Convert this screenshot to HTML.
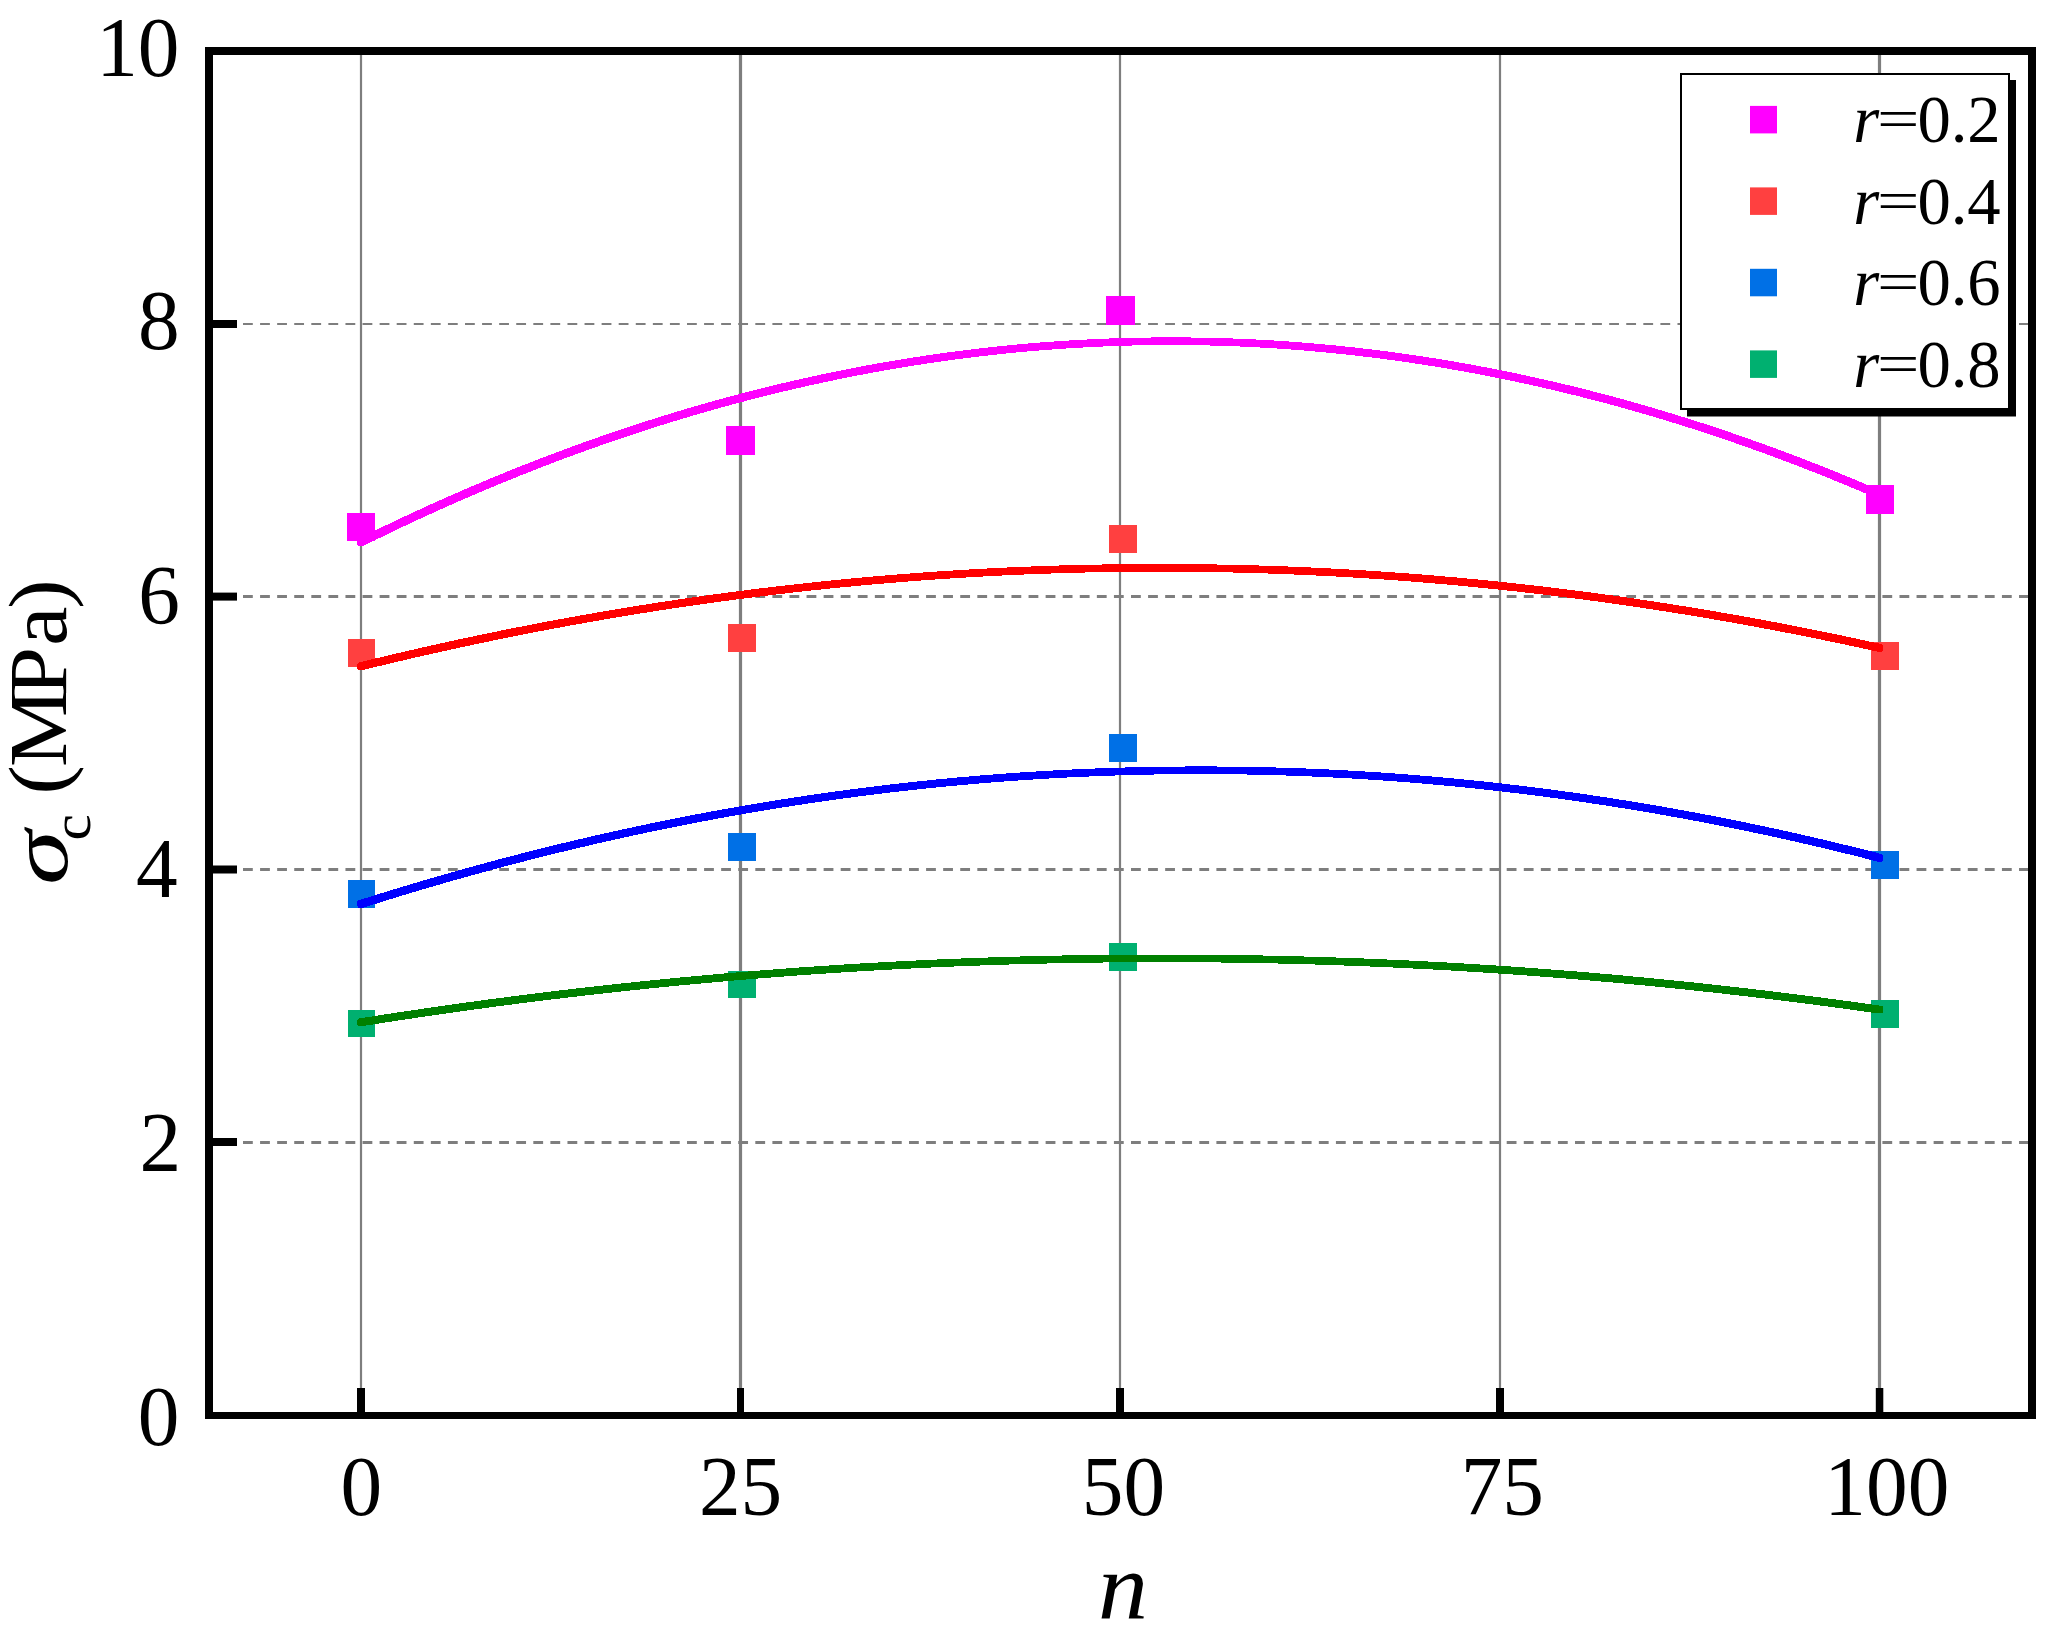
<!DOCTYPE html>
<html lang="en"><head><meta charset="utf-8"><title>Chart</title>
<style>html,body{margin:0;padding:0;background:#fff}body{width:2062px;height:1632px;overflow:hidden}svg{display:block}text{font-family:"Liberation Serif",serif;fill:#000}.i{font-style:italic}</style></head><body>
<svg width="2062" height="1632" viewBox="0 0 2062 1632">
<rect x="0" y="0" width="2062" height="1632" fill="#fff"/>
<g fill="#7e7e7e">
<rect x="359.9" y="55" width="2.2" height="1357"/>
<rect x="738.9" y="55" width="3.2" height="1357"/>
<rect x="1118.9" y="55" width="2.2" height="1357"/>
<rect x="1498.9" y="55" width="2.2" height="1357"/>
<rect x="1877.9" y="55" width="3.2" height="1357"/>
</g>
<line x1="208.85" y1="1142.5" x2="2028" y2="1142.5" stroke="#7e7e7e" stroke-width="3.0" stroke-dasharray="9.8 7.277"/>
<line x1="208.85" y1="869.5" x2="2028" y2="869.5" stroke="#7e7e7e" stroke-width="3.0" stroke-dasharray="9.8 7.277"/>
<line x1="208.85" y1="596.5" x2="2028" y2="596.5" stroke="#7e7e7e" stroke-width="3.0" stroke-dasharray="9.8 7.277"/>
<line x1="208.85" y1="324.0" x2="2028" y2="324.0" stroke="#7e7e7e" stroke-width="2.0" stroke-dasharray="9.8 7.277"/>
<g fill="#ff00ff">
<rect x="347.0" y="513.0" width="28.0" height="28.0"/>
<rect x="726.0" y="426.0" width="29.0" height="29.0"/>
<rect x="1106.0" y="296.0" width="29.0" height="29.0"/>
<rect x="1866.0" y="485.0" width="28.0" height="29.0"/>
</g>
<g fill="#ff4040">
<rect x="348.0" y="639.0" width="27.0" height="28.0"/>
<rect x="728.0" y="624.0" width="28.0" height="28.0"/>
<rect x="1109.0" y="525.0" width="28.0" height="28.0"/>
<rect x="1871.0" y="642.0" width="28.0" height="28.0"/>
</g>
<g fill="#0070e6">
<rect x="348.0" y="880.0" width="27.0" height="28.0"/>
<rect x="728.0" y="833.0" width="28.0" height="28.0"/>
<rect x="1109.0" y="734.0" width="28.0" height="28.0"/>
<rect x="1871.0" y="851.0" width="28.0" height="28.0"/>
</g>
<g fill="#00b070">
<rect x="348.0" y="1010.0" width="27.0" height="27.0"/>
<rect x="728.0" y="971.0" width="28.0" height="27.0"/>
<rect x="1109.0" y="943.0" width="28.0" height="28.0"/>
<rect x="1871.0" y="1000.0" width="28.0" height="28.0"/>
</g>
<path d="M357.20 540.66L357.45 539.84L357.70 539.34L357.95 539.04L358.20 538.82L358.45 538.68L358.70 538.55L358.95 538.43L359.20 538.30L359.45 538.18L359.70 538.06L359.95 537.93L360.20 537.81L360.45 537.68L360.70 537.56L360.95 537.44L361.20 537.31L361.45 537.19L361.70 537.07L361.95 536.94L362.20 536.82L362.45 536.70L362.70 536.57L362.95 536.45L363.20 536.33L363.45 536.20L363.70 536.08L363.95 535.96L364.20 535.83L364.45 535.71L364.70 535.59L364.95 535.46L365.20 535.34L365.45 535.22L365.70 535.09L365.95 534.97L366.20 534.85L366.45 534.72L366.70 534.60L366.95 534.48L367.20 534.36L367.45 534.23L367.70 534.11L367.95 533.99L368.20 533.87L368.45 533.74L368.70 533.62L368.95 533.50L369.20 533.38L369.45 533.25L369.70 533.13L369.95 533.01L370.20 532.89L370.45 532.76L370.70 532.64L370.80 532.59L372.80 531.62L374.80 530.64L376.80 529.67L378.80 528.70L380.80 527.74L382.80 526.77L384.80 525.81L386.80 524.85L388.80 523.90L390.80 522.94L392.80 521.99L394.80 521.04L396.80 520.09L398.80 519.15L400.80 518.21L402.80 517.27L404.80 516.33L406.80 515.40L408.80 514.47L410.80 513.54L412.80 512.61L414.80 511.68L416.80 510.76L418.80 509.84L420.80 508.92L422.80 508.01L424.80 507.10L426.80 506.19L428.80 505.28L430.80 504.37L432.80 503.47L434.80 502.57L436.80 501.67L438.80 500.78L440.80 499.88L442.80 498.99L444.80 498.11L446.80 497.22L448.80 496.34L450.80 495.46L452.80 494.58L454.80 493.70L456.80 492.83L458.80 491.96L460.80 491.09L462.80 490.22L464.80 489.36L466.80 488.50L468.80 487.64L470.80 486.78L472.80 485.93L474.80 485.08L476.80 484.23L478.80 483.38L480.80 482.54L482.80 481.70L484.80 480.86L486.80 480.02L488.80 479.19L490.80 478.35L492.80 477.52L494.80 476.70L496.80 475.87L498.80 475.05L500.80 474.23L502.80 473.41L504.80 472.60L506.80 471.79L508.80 470.98L510.80 470.17L512.80 469.37L514.80 468.56L516.80 467.76L518.80 466.97L520.80 466.17L522.80 465.38L524.80 464.59L526.80 463.80L528.80 463.02L530.80 462.23L532.80 461.45L534.80 460.67L536.80 459.90L538.80 459.13L540.80 458.36L542.80 457.59L544.80 456.82L546.80 456.06L548.80 455.30L550.80 454.54L552.80 453.78L554.80 453.03L556.80 452.28L558.80 451.53L560.80 450.78L562.80 450.04L564.80 449.30L566.80 448.56L568.80 447.82L570.80 447.09L572.80 446.36L574.80 445.63L576.80 444.90L578.80 444.18L580.80 443.46L582.80 442.74L584.80 442.02L586.80 441.31L588.80 440.59L590.80 439.88L592.80 439.18L594.80 438.47L596.80 437.77L598.80 437.07L600.80 436.37L602.80 435.68L604.80 434.99L606.80 434.30L608.80 433.61L610.80 432.92L612.80 432.24L614.80 431.56L616.80 430.88L618.80 430.21L620.80 429.54L622.80 428.87L624.80 428.20L626.80 427.53L628.80 426.87L630.80 426.21L632.80 425.55L634.80 424.90L636.80 424.24L638.80 423.59L640.80 422.94L642.80 422.30L644.80 421.66L646.80 421.01L648.80 420.38L650.80 419.74L652.80 419.11L654.80 418.48L656.80 417.85L658.80 417.22L660.80 416.60L662.80 415.98L664.80 415.36L666.80 414.74L668.80 414.13L670.80 413.52L672.80 412.91L674.80 412.30L676.80 411.70L678.80 411.09L680.80 410.49L682.80 409.90L684.80 409.30L686.80 408.71L688.80 408.12L690.80 407.53L692.80 406.95L694.80 406.37L696.80 405.79L698.80 405.21L700.80 404.63L702.80 404.06L704.80 403.49L706.80 402.93L708.80 402.36L710.80 401.80L712.80 401.24L714.80 400.68L716.80 400.12L718.80 399.57L720.80 399.02L722.80 398.47L724.80 397.93L726.80 397.38L728.80 396.84L730.80 396.31L732.80 395.77L734.80 395.24L736.80 394.71L738.80 394.18L740.80 393.65L742.80 393.13L744.80 392.61L746.80 392.09L748.80 391.57L750.80 391.06L752.80 390.55L754.80 390.04L756.80 389.53L758.80 389.03L760.80 388.53L762.80 388.03L764.80 387.53L766.80 387.04L768.80 386.55L770.80 386.06L772.80 385.57L774.80 385.09L776.80 384.60L778.80 384.13L780.80 383.65L782.80 383.17L784.80 382.70L786.80 382.23L788.80 381.77L790.80 381.30L792.80 380.84L794.80 380.38L796.80 379.92L798.80 379.47L800.80 379.01L802.80 378.56L804.80 378.12L806.80 377.67L808.80 377.23L810.80 376.79L812.80 376.35L814.80 375.91L816.80 375.48L818.80 375.05L820.80 374.62L822.80 374.20L824.80 373.77L826.80 373.35L828.80 372.93L830.80 372.52L832.80 372.11L834.80 371.69L836.80 371.29L838.80 370.88L840.80 370.48L842.80 370.08L844.80 369.68L846.80 369.28L848.80 368.89L850.80 368.50L852.80 368.11L854.80 367.72L856.80 367.34L858.80 366.95L860.80 366.58L862.80 366.20L864.80 365.83L866.80 365.45L868.80 365.08L870.80 364.72L872.80 364.35L874.80 363.99L876.80 363.63L878.80 363.27L880.80 362.92L882.80 362.57L884.80 362.22L886.80 361.87L888.80 361.53L890.80 361.18L892.80 360.84L894.80 360.51L896.80 360.17L898.80 359.84L900.80 359.51L902.80 359.18L904.80 358.86L906.80 358.53L908.80 358.21L910.80 357.89L912.80 357.58L914.80 357.27L916.80 356.95L918.80 356.65L920.80 356.34L922.80 356.04L924.80 355.74L926.80 355.44L928.80 355.14L930.80 354.85L932.80 354.56L934.80 354.27L936.80 353.98L938.80 353.70L940.80 353.42L942.80 353.14L944.80 352.86L946.80 352.59L948.80 352.32L950.80 352.05L952.80 351.78L954.80 351.52L956.80 351.26L958.80 351.00L960.80 350.74L962.80 350.49L964.80 350.23L966.80 349.99L968.80 349.74L970.80 349.49L972.80 349.25L974.80 349.01L976.80 348.78L978.80 348.54L980.80 348.31L982.80 348.08L984.80 347.85L986.80 347.63L988.80 347.40L990.80 347.18L992.80 346.97L994.80 346.75L996.80 346.54L998.80 346.33L1000.80 346.12L1002.80 345.92L1004.80 345.71L1006.80 345.51L1008.80 345.31L1010.80 345.12L1012.80 344.92L1014.80 344.73L1016.80 344.55L1018.80 344.36L1020.80 344.18L1022.80 344.00L1024.80 343.82L1026.80 343.64L1028.80 343.47L1030.80 343.30L1032.80 343.13L1034.80 342.96L1036.80 342.80L1038.80 342.64L1040.80 342.48L1042.80 342.32L1044.80 342.17L1046.80 342.02L1048.80 341.87L1050.80 341.72L1052.80 341.58L1054.80 341.43L1056.80 341.29L1058.80 341.16L1060.80 341.02L1062.80 340.89L1064.80 340.76L1066.80 340.63L1068.80 340.51L1070.80 340.39L1072.80 340.27L1074.80 340.15L1076.80 340.04L1078.80 339.92L1080.80 339.81L1082.80 339.71L1084.80 339.60L1086.80 339.50L1088.80 339.40L1090.80 339.30L1092.80 339.21L1094.80 339.11L1096.80 339.02L1098.80 338.93L1100.80 338.85L1102.80 338.77L1104.80 338.69L1106.80 338.61L1108.80 338.53L1110.80 338.46L1112.80 338.39L1114.80 338.32L1116.80 338.25L1118.80 338.19L1120.80 338.13L1122.80 338.07L1124.80 338.01L1126.80 337.96L1128.80 337.91L1130.80 337.86L1132.80 337.81L1134.80 337.77L1136.80 337.73L1138.80 337.69L1140.80 337.65L1142.80 337.62L1144.80 337.59L1146.80 337.56L1148.80 337.53L1150.80 337.51L1152.80 337.48L1154.80 337.47L1156.80 337.45L1158.80 337.43L1160.80 337.42L1162.80 337.41L1164.80 337.40L1166.80 337.40L1168.80 337.40L1170.80 337.40L1172.80 337.40L1174.80 337.40L1176.80 337.40L1178.80 337.41L1180.80 337.42L1182.80 337.43L1184.80 337.44L1186.80 337.46L1188.80 337.47L1190.80 337.50L1192.80 337.52L1194.80 337.54L1196.80 337.57L1198.80 337.60L1200.80 337.64L1202.80 337.67L1204.80 337.71L1206.80 337.75L1208.80 337.79L1210.80 337.84L1212.80 337.88L1214.80 337.94L1216.80 337.99L1218.80 338.04L1220.80 338.10L1222.80 338.16L1224.80 338.22L1226.80 338.29L1228.80 338.35L1230.80 338.42L1232.80 338.50L1234.80 338.57L1236.80 338.65L1238.80 338.73L1240.80 338.81L1242.80 338.89L1244.80 338.98L1246.80 339.07L1248.80 339.16L1250.80 339.26L1252.80 339.35L1254.80 339.45L1256.80 339.55L1258.80 339.66L1260.80 339.76L1262.80 339.87L1264.80 339.98L1266.80 340.10L1268.80 340.21L1270.80 340.33L1272.80 340.45L1274.80 340.57L1276.80 340.70L1278.80 340.83L1280.80 340.96L1282.80 341.09L1284.80 341.23L1286.80 341.37L1288.80 341.51L1290.80 341.65L1292.80 341.80L1294.80 341.94L1296.80 342.09L1298.80 342.25L1300.80 342.40L1302.80 342.56L1304.80 342.72L1306.80 342.88L1308.80 343.05L1310.80 343.22L1312.80 343.39L1314.80 343.56L1316.80 343.73L1318.80 343.91L1320.80 344.09L1322.80 344.27L1324.80 344.46L1326.80 344.64L1328.80 344.83L1330.80 345.03L1332.80 345.22L1334.80 345.42L1336.80 345.62L1338.80 345.82L1340.80 346.02L1342.80 346.23L1344.80 346.44L1346.80 346.65L1348.80 346.86L1350.80 347.08L1352.80 347.30L1354.80 347.52L1356.80 347.74L1358.80 347.97L1360.80 348.20L1362.80 348.43L1364.80 348.66L1366.80 348.90L1368.80 349.14L1370.80 349.38L1372.80 349.62L1374.80 349.87L1376.80 350.12L1378.80 350.37L1380.80 350.62L1382.80 350.87L1384.80 351.13L1386.80 351.39L1388.80 351.66L1390.80 351.92L1392.80 352.19L1394.80 352.46L1396.80 352.73L1398.80 353.01L1400.80 353.28L1402.80 353.56L1404.80 353.85L1406.80 354.13L1408.80 354.42L1410.80 354.71L1412.80 355.00L1414.80 355.30L1416.80 355.59L1418.80 355.89L1420.80 356.20L1422.80 356.50L1424.80 356.81L1426.80 357.12L1428.80 357.43L1430.80 357.74L1432.80 358.06L1434.80 358.38L1436.80 358.70L1438.80 359.02L1440.80 359.35L1442.80 359.68L1444.80 360.01L1446.80 360.35L1448.80 360.68L1450.80 361.02L1452.80 361.36L1454.80 361.71L1456.80 362.05L1458.80 362.40L1460.80 362.75L1462.80 363.10L1464.80 363.46L1466.80 363.82L1468.80 364.18L1470.80 364.54L1472.80 364.91L1474.80 365.28L1476.80 365.65L1478.80 366.02L1480.80 366.40L1482.80 366.77L1484.80 367.15L1486.80 367.54L1488.80 367.92L1490.80 368.31L1492.80 368.70L1494.80 369.09L1496.80 369.49L1498.80 369.88L1500.80 370.28L1502.80 370.69L1504.80 371.09L1506.80 371.50L1508.80 371.91L1510.80 372.32L1512.80 372.74L1514.80 373.15L1516.80 373.57L1518.80 373.99L1520.80 374.42L1522.80 374.85L1524.80 375.27L1526.80 375.71L1528.80 376.14L1530.80 376.58L1532.80 377.02L1534.80 377.46L1536.80 377.90L1538.80 378.35L1540.80 378.80L1542.80 379.25L1544.80 379.70L1546.80 380.16L1548.80 380.62L1550.80 381.08L1552.80 381.54L1554.80 382.01L1556.80 382.48L1558.80 382.95L1560.80 383.42L1562.80 383.90L1564.80 384.38L1566.80 384.86L1568.80 385.34L1570.80 385.82L1572.80 386.31L1574.80 386.80L1576.80 387.30L1578.80 387.79L1580.80 388.29L1582.80 388.79L1584.80 389.29L1586.80 389.80L1588.80 390.30L1590.80 390.81L1592.80 391.33L1594.80 391.84L1596.80 392.36L1598.80 392.88L1600.80 393.40L1602.80 393.93L1604.80 394.45L1606.80 394.98L1608.80 395.51L1610.80 396.05L1612.80 396.59L1614.80 397.13L1616.80 397.67L1618.80 398.21L1620.80 398.76L1622.80 399.31L1624.80 399.86L1626.80 400.41L1628.80 400.97L1630.80 401.53L1632.80 402.09L1634.80 402.65L1636.80 403.22L1638.80 403.79L1640.80 404.36L1642.80 404.93L1644.80 405.51L1646.80 406.09L1648.80 406.67L1650.80 407.25L1652.80 407.84L1654.80 408.43L1656.80 409.02L1658.80 409.61L1660.80 410.21L1662.80 410.81L1664.80 411.41L1666.80 412.01L1668.80 412.62L1670.80 413.22L1672.80 413.83L1674.80 414.45L1676.80 415.06L1678.80 415.68L1680.80 416.30L1682.80 416.92L1684.80 417.55L1686.80 418.17L1688.80 418.80L1690.80 419.44L1692.80 420.07L1694.80 420.71L1696.80 421.35L1698.80 421.99L1700.80 422.64L1702.80 423.28L1704.80 423.93L1706.80 424.58L1708.80 425.24L1710.80 425.90L1712.80 426.55L1714.80 427.22L1716.80 427.88L1718.80 428.55L1720.80 429.22L1722.80 429.89L1724.80 430.56L1726.80 431.24L1728.80 431.92L1730.80 432.60L1732.80 433.28L1734.80 433.97L1736.80 434.66L1738.80 435.35L1740.80 436.04L1742.80 436.74L1744.80 437.44L1746.80 438.14L1748.80 438.84L1750.80 439.55L1752.80 440.25L1754.80 440.97L1756.80 441.68L1758.80 442.39L1760.80 443.11L1762.80 443.83L1764.80 444.56L1766.80 445.28L1768.80 446.01L1770.80 446.74L1772.80 447.47L1774.80 448.21L1776.80 448.95L1778.80 449.69L1780.80 450.43L1782.80 451.17L1784.80 451.92L1786.80 452.67L1788.80 453.42L1790.80 454.18L1792.80 454.93L1794.80 455.69L1796.80 456.46L1798.80 457.22L1800.80 457.99L1802.80 458.76L1804.80 459.53L1806.80 460.30L1808.80 461.08L1810.80 461.86L1812.80 462.64L1814.80 463.42L1816.80 464.21L1818.80 465.00L1820.80 465.79L1822.80 466.59L1824.80 467.38L1826.80 468.18L1828.80 468.98L1830.80 469.79L1832.80 470.59L1834.80 471.40L1836.80 472.21L1838.80 473.02L1840.80 473.84L1842.80 474.66L1844.80 475.48L1846.80 476.30L1848.80 477.13L1850.80 477.96L1852.80 478.79L1854.80 479.62L1856.80 480.46L1858.80 481.29L1860.80 482.13L1862.80 482.98L1864.80 483.82L1866.80 484.67L1868.80 485.52L1869.70 485.90L1869.95 486.01L1870.20 486.12L1870.45 486.22L1870.70 486.33L1870.95 486.44L1871.20 486.54L1871.45 486.65L1871.70 486.76L1871.95 486.86L1872.20 486.97L1872.45 487.08L1872.70 487.19L1872.95 487.29L1873.20 487.40L1873.45 487.51L1873.70 487.61L1873.95 487.72L1874.20 487.83L1874.45 487.94L1874.70 488.04L1874.95 488.15L1875.20 488.26L1875.45 488.37L1875.70 488.47L1875.95 488.58L1876.20 488.69L1876.45 488.80L1876.70 488.90L1876.95 489.01L1877.20 489.12L1877.45 489.23L1877.70 489.33L1877.95 489.44L1878.20 489.55L1878.45 489.66L1878.70 489.77L1878.95 489.87L1879.20 489.98L1879.45 490.09L1879.70 490.20L1879.95 490.31L1880.20 490.41L1880.45 490.52L1880.70 490.63L1880.95 490.74L1881.20 490.85L1881.45 490.96L1881.70 491.06L1881.95 491.17L1882.20 491.30L1882.45 491.48L1882.70 491.73L1882.95 492.11L1883.20 493.16L1883.20 496.36L1882.95 497.43L1882.70 497.82L1882.45 498.09L1882.20 498.29L1881.95 498.32L1881.70 498.44L1881.45 498.52L1881.20 498.57L1880.95 498.58L1880.70 498.59L1880.45 498.60L1880.20 498.55L1879.95 498.56L1879.70 498.57L1879.45 498.58L1879.20 498.59L1878.95 498.60L1878.70 498.55L1878.45 498.56L1878.20 498.57L1877.95 498.58L1877.70 498.58L1877.45 498.55L1877.20 498.47L1876.95 498.39L1876.70 498.28L1876.45 498.17L1876.20 498.06L1875.95 497.95L1875.70 497.85L1875.45 497.74L1875.20 497.63L1874.95 497.52L1874.70 497.41L1874.45 497.30L1874.20 497.20L1873.95 497.09L1873.70 496.98L1873.45 496.87L1873.20 496.76L1872.95 496.66L1872.70 496.55L1872.45 496.44L1872.20 496.33L1871.95 496.23L1871.70 496.12L1871.45 496.01L1871.20 495.90L1870.95 495.80L1870.70 495.69L1870.45 495.58L1870.20 495.47L1869.95 495.37L1869.70 495.26L1868.80 494.87L1866.80 494.02L1864.80 493.16L1862.80 492.31L1860.80 491.46L1858.80 490.62L1856.80 489.77L1854.80 488.93L1852.80 488.09L1850.80 487.25L1848.80 486.42L1846.80 485.59L1844.80 484.76L1842.80 483.93L1840.80 483.11L1838.80 482.29L1836.80 481.47L1834.80 480.65L1832.80 479.84L1830.80 479.02L1828.80 478.21L1826.80 477.41L1824.80 476.60L1822.80 475.80L1820.80 475.00L1818.80 474.20L1816.80 473.41L1814.80 472.61L1812.80 471.82L1810.80 471.04L1808.80 470.25L1806.80 469.47L1804.80 468.69L1802.80 467.91L1800.80 467.14L1798.80 466.36L1796.80 465.59L1794.80 464.82L1792.80 464.06L1790.80 463.30L1788.80 462.54L1786.80 461.78L1784.80 461.02L1782.80 460.27L1780.80 459.52L1778.80 458.77L1776.80 458.02L1774.80 457.28L1772.80 456.54L1770.80 455.80L1768.80 455.06L1766.80 454.33L1764.80 453.60L1762.80 452.87L1760.80 452.14L1758.80 451.42L1756.80 450.70L1754.80 449.98L1752.80 449.26L1750.80 448.55L1748.80 447.84L1746.80 447.13L1744.80 446.42L1742.80 445.72L1740.80 445.02L1738.80 444.32L1736.80 443.62L1734.80 442.93L1732.80 442.24L1730.80 441.55L1728.80 440.86L1726.80 440.17L1724.80 439.49L1722.80 438.81L1720.80 438.14L1718.80 437.46L1716.80 436.79L1714.80 436.12L1712.80 435.45L1710.80 434.79L1708.80 434.12L1706.80 433.46L1704.80 432.81L1702.80 432.15L1700.80 431.50L1698.80 430.85L1696.80 430.20L1694.80 429.56L1692.80 428.91L1690.80 428.27L1688.80 427.63L1686.80 427.00L1684.80 426.37L1682.80 425.73L1680.80 425.11L1678.80 424.48L1676.80 423.86L1674.80 423.24L1672.80 422.62L1670.80 422.00L1668.80 421.39L1666.80 420.78L1664.80 420.17L1662.80 419.56L1660.80 418.96L1658.80 418.36L1656.80 417.76L1654.80 417.16L1652.80 416.57L1650.80 415.98L1648.80 415.39L1646.80 414.80L1644.80 414.22L1642.80 413.64L1640.80 413.06L1638.80 412.48L1636.80 411.91L1634.80 411.34L1632.80 410.77L1630.80 410.20L1628.80 409.64L1626.80 409.07L1624.80 408.51L1622.80 407.96L1620.80 407.40L1618.80 406.85L1616.80 406.30L1614.80 405.75L1612.80 405.21L1610.80 404.67L1608.80 404.13L1606.80 403.59L1604.80 403.06L1602.80 402.52L1600.80 401.99L1598.80 401.47L1596.80 400.94L1594.80 400.42L1592.80 399.90L1590.80 399.38L1588.80 398.86L1586.80 398.35L1584.80 397.84L1582.80 397.33L1580.80 396.83L1578.80 396.32L1576.80 395.82L1574.80 395.33L1572.80 394.83L1570.80 394.34L1568.80 393.85L1566.80 393.36L1564.80 392.87L1562.80 392.39L1560.80 391.91L1558.80 391.43L1556.80 390.95L1554.80 390.48L1552.80 390.01L1550.80 389.54L1548.80 389.07L1546.80 388.61L1544.80 388.15L1542.80 387.69L1540.80 387.23L1538.80 386.78L1536.80 386.33L1534.80 385.88L1532.80 385.43L1530.80 384.99L1528.80 384.55L1526.80 384.11L1524.80 383.67L1522.80 383.23L1520.80 382.80L1518.80 382.37L1516.80 381.95L1514.80 381.52L1512.80 381.10L1510.80 380.68L1508.80 380.26L1506.80 379.85L1504.80 379.44L1502.80 379.03L1500.80 378.62L1498.80 378.21L1496.80 377.81L1494.80 377.41L1492.80 377.01L1490.80 376.62L1488.80 376.23L1486.80 375.84L1484.80 375.45L1482.80 375.06L1480.80 374.68L1478.80 374.30L1476.80 373.92L1474.80 373.55L1472.80 373.17L1470.80 372.80L1468.80 372.43L1466.80 372.07L1464.80 371.71L1462.80 371.34L1460.80 370.99L1458.80 370.63L1456.80 370.28L1454.80 369.93L1452.80 369.58L1450.80 369.23L1448.80 368.89L1446.80 368.55L1444.80 368.21L1442.80 367.87L1440.80 367.54L1438.80 367.21L1436.80 366.88L1434.80 366.55L1432.80 366.23L1430.80 365.91L1428.80 365.59L1426.80 365.27L1424.80 364.96L1422.80 364.64L1420.80 364.34L1418.80 364.03L1416.80 363.72L1414.80 363.42L1412.80 363.12L1410.80 362.83L1408.80 362.53L1406.80 362.24L1404.80 361.95L1402.80 361.66L1400.80 361.38L1398.80 361.10L1396.80 360.82L1394.80 360.54L1392.80 360.26L1390.80 359.99L1388.80 359.72L1386.80 359.45L1384.80 359.19L1382.80 358.93L1380.80 358.67L1378.80 358.41L1376.80 358.15L1374.80 357.90L1372.80 357.65L1370.80 357.40L1368.80 357.16L1366.80 356.91L1364.80 356.67L1362.80 356.43L1360.80 356.20L1358.80 355.96L1356.80 355.73L1354.80 355.51L1352.80 355.28L1350.80 355.06L1348.80 354.84L1346.80 354.62L1344.80 354.40L1342.80 354.19L1340.80 353.98L1338.80 353.77L1336.80 353.56L1334.80 353.36L1332.80 353.16L1330.80 352.96L1328.80 352.76L1326.80 352.57L1324.80 352.38L1322.80 352.19L1320.80 352.00L1318.80 351.82L1316.80 351.63L1314.80 351.46L1312.80 351.28L1310.80 351.10L1308.80 350.93L1306.80 350.76L1304.80 350.60L1302.80 350.43L1300.80 350.27L1298.80 350.11L1296.80 349.95L1294.80 349.80L1292.80 349.65L1290.80 349.50L1288.80 349.35L1286.80 349.20L1284.80 349.06L1282.80 348.92L1280.80 348.78L1278.80 348.65L1276.80 348.52L1274.80 348.39L1272.80 348.26L1270.80 348.13L1268.80 348.01L1266.80 347.89L1264.80 347.77L1262.80 347.66L1260.80 347.54L1258.80 347.43L1256.80 347.32L1254.80 347.22L1252.80 347.12L1250.80 347.01L1248.80 346.92L1246.80 346.82L1244.80 346.73L1242.80 346.64L1240.80 346.55L1238.80 346.46L1236.80 346.38L1234.80 346.30L1232.80 346.22L1230.80 346.14L1228.80 346.07L1226.80 346.00L1224.80 345.93L1222.80 345.86L1220.80 345.80L1218.80 345.74L1216.80 345.68L1214.80 345.62L1212.80 345.57L1210.80 345.52L1208.80 345.47L1206.80 345.42L1204.80 345.38L1202.80 345.33L1200.80 345.29L1198.80 345.26L1196.80 345.22L1194.80 345.19L1192.80 345.16L1190.80 345.13L1188.80 345.11L1186.80 345.09L1184.80 345.07L1182.80 345.05L1180.80 345.04L1178.80 345.02L1176.80 345.01L1174.80 345.01L1172.80 345.00L1170.80 345.00L1168.80 345.00L1166.80 345.01L1164.80 345.02L1162.80 345.03L1160.80 345.04L1158.80 345.06L1156.80 345.08L1154.80 345.10L1152.80 345.12L1150.80 345.15L1148.80 345.18L1146.80 345.21L1144.80 345.24L1142.80 345.27L1140.80 345.31L1138.80 345.35L1136.80 345.40L1134.80 345.44L1132.80 345.49L1130.80 345.54L1128.80 345.59L1126.80 345.65L1124.80 345.71L1122.80 345.77L1120.80 345.83L1118.80 345.89L1116.80 345.96L1114.80 346.03L1112.80 346.10L1110.80 346.18L1108.80 346.26L1106.80 346.34L1104.80 346.42L1102.80 346.50L1100.80 346.59L1098.80 346.68L1096.80 346.77L1094.80 346.87L1092.80 346.96L1090.80 347.06L1088.80 347.16L1086.80 347.27L1084.80 347.38L1082.80 347.49L1080.80 347.60L1078.80 347.71L1076.80 347.83L1074.80 347.95L1072.80 348.07L1070.80 348.19L1068.80 348.32L1066.80 348.45L1064.80 348.58L1062.80 348.71L1060.80 348.85L1058.80 348.99L1056.80 349.13L1054.80 349.27L1052.80 349.42L1050.80 349.57L1048.80 349.72L1046.80 349.87L1044.80 350.03L1042.80 350.19L1040.80 350.35L1038.80 350.51L1036.80 350.68L1034.80 350.84L1032.80 351.01L1030.80 351.19L1028.80 351.36L1026.80 351.54L1024.80 351.72L1022.80 351.90L1020.80 352.09L1018.80 352.28L1016.80 352.47L1014.80 352.66L1012.80 352.85L1010.80 353.05L1008.80 353.25L1006.80 353.45L1004.80 353.66L1002.80 353.87L1000.80 354.08L998.80 354.29L996.80 354.50L994.80 354.72L992.80 354.94L990.80 355.16L988.80 355.39L986.80 355.61L984.80 355.84L982.80 356.08L980.80 356.31L978.80 356.55L976.80 356.79L974.80 357.03L972.80 357.27L970.80 357.52L968.80 357.77L966.80 358.02L964.80 358.27L962.80 358.53L960.80 358.79L958.80 359.05L956.80 359.31L954.80 359.58L952.80 359.85L950.80 360.12L948.80 360.39L946.80 360.67L944.80 360.95L942.80 361.23L940.80 361.51L938.80 361.80L936.80 362.09L934.80 362.38L932.80 362.67L930.80 362.97L928.80 363.27L926.80 363.57L924.80 363.87L922.80 364.17L920.80 364.48L918.80 364.79L916.80 365.11L914.80 365.42L912.80 365.74L910.80 366.06L908.80 366.38L906.80 366.71L904.80 367.03L902.80 367.36L900.80 367.70L898.80 368.03L896.80 368.37L894.80 368.71L892.80 369.05L890.80 369.40L888.80 369.74L886.80 370.09L884.80 370.45L882.80 370.80L880.80 371.16L878.80 371.52L876.80 371.88L874.80 372.24L872.80 372.61L870.80 372.98L868.80 373.35L866.80 373.73L864.80 374.10L862.80 374.48L860.80 374.86L858.80 375.25L856.80 375.63L854.80 376.02L852.80 376.41L850.80 376.81L848.80 377.20L846.80 377.60L844.80 378.00L842.80 378.41L840.80 378.81L838.80 379.22L836.80 379.63L834.80 380.05L832.80 380.46L830.80 380.88L828.80 381.30L826.80 381.72L824.80 382.15L822.80 382.58L820.80 383.01L818.80 383.44L816.80 383.88L814.80 384.32L812.80 384.76L810.80 385.20L808.80 385.64L806.80 386.09L804.80 386.54L802.80 386.99L800.80 387.45L798.80 387.91L796.80 388.37L794.80 388.83L792.80 389.29L790.80 389.76L788.80 390.23L786.80 390.70L784.80 391.18L782.80 391.66L780.80 392.14L778.80 392.62L776.80 393.10L774.80 393.59L772.80 394.08L770.80 394.57L768.80 395.07L766.80 395.56L764.80 396.06L762.80 396.56L760.80 397.07L758.80 397.58L756.80 398.08L754.80 398.60L752.80 399.11L750.80 399.63L748.80 400.15L746.80 400.67L744.80 401.19L742.80 401.72L740.80 402.25L738.80 402.78L736.80 403.31L734.80 403.85L732.80 404.39L730.80 404.93L728.80 405.47L726.80 406.02L724.80 406.56L722.80 407.11L720.80 407.67L718.80 408.22L716.80 408.78L714.80 409.34L712.80 409.91L710.80 410.47L708.80 411.04L706.80 411.61L704.80 412.18L702.80 412.76L700.80 413.34L698.80 413.92L696.80 414.50L694.80 415.08L692.80 415.67L690.80 416.26L688.80 416.85L686.80 417.45L684.80 418.05L682.80 418.65L680.80 419.25L678.80 419.85L676.80 420.46L674.80 421.07L672.80 421.68L670.80 422.30L668.80 422.91L666.80 423.53L664.80 424.15L662.80 424.78L660.80 425.41L658.80 426.04L656.80 426.67L654.80 427.30L652.80 427.94L650.80 428.58L648.80 429.22L646.80 429.86L644.80 430.51L642.80 431.16L640.80 431.81L638.80 432.46L636.80 433.12L634.80 433.78L632.80 434.44L630.80 435.10L628.80 435.77L626.80 436.44L624.80 437.11L622.80 437.78L620.80 438.46L618.80 439.14L616.80 439.82L614.80 440.50L612.80 441.19L610.80 441.88L608.80 442.57L606.80 443.26L604.80 443.95L602.80 444.65L600.80 445.35L598.80 446.06L596.80 446.76L594.80 447.47L592.80 448.18L590.80 448.89L588.80 449.61L586.80 450.32L584.80 451.04L582.80 451.77L580.80 452.49L578.80 453.22L576.80 453.95L574.80 454.68L572.80 455.42L570.80 456.15L568.80 456.89L566.80 457.64L564.80 458.38L562.80 459.13L560.80 459.88L558.80 460.63L556.80 461.38L554.80 462.14L552.80 462.90L550.80 463.66L548.80 464.42L546.80 465.19L544.80 465.96L542.80 466.73L540.80 467.51L538.80 468.28L536.80 469.06L534.80 469.84L532.80 470.63L530.80 471.41L528.80 472.20L526.80 472.99L524.80 473.79L522.80 474.58L520.80 475.38L518.80 476.18L516.80 476.99L514.80 477.79L512.80 478.60L510.80 479.41L508.80 480.22L506.80 481.04L504.80 481.86L502.80 482.68L500.80 483.50L498.80 484.33L496.80 485.16L494.80 485.99L492.80 486.82L490.80 487.65L488.80 488.49L486.80 489.33L484.80 490.18L482.80 491.02L480.80 491.87L478.80 492.72L476.80 493.57L474.80 494.43L472.80 495.28L470.80 496.14L468.80 497.00L466.80 497.87L464.80 498.74L462.80 499.61L460.80 500.48L458.80 501.35L456.80 502.23L454.80 503.11L452.80 503.99L450.80 504.88L448.80 505.76L446.80 506.65L444.80 507.54L442.80 508.44L440.80 509.33L438.80 510.23L436.80 511.13L434.80 512.04L432.80 512.94L430.80 513.85L428.80 514.77L426.80 515.68L424.80 516.60L422.80 517.51L420.80 518.44L418.80 519.36L416.80 520.29L414.80 521.21L412.80 522.14L410.80 523.08L408.80 524.01L406.80 524.95L404.80 525.89L402.80 526.84L400.80 527.78L398.80 528.73L396.80 529.68L394.80 530.63L392.80 531.59L390.80 532.55L388.80 533.51L386.80 534.47L384.80 535.44L382.80 536.40L380.80 537.37L378.80 538.35L376.80 539.32L374.80 540.30L372.80 541.28L370.80 542.26L370.70 542.31L370.45 542.43L370.20 542.56L369.95 542.68L369.70 542.80L369.45 542.93L369.20 543.05L368.95 543.17L368.70 543.30L368.45 543.42L368.20 543.54L367.95 543.67L367.70 543.79L367.45 543.91L367.20 544.04L366.95 544.16L366.70 544.28L366.45 544.41L366.20 544.53L365.95 544.66L365.70 544.78L365.45 544.90L365.20 545.03L364.95 545.15L364.70 545.27L364.45 545.40L364.20 545.52L363.95 545.65L363.70 545.77L363.45 545.89L363.20 545.97L362.95 546.01L362.70 546.02L362.45 546.01L362.20 546.00L361.95 546.06L361.70 546.05L361.45 546.04L361.20 546.03L360.95 546.02L360.70 546.01L360.45 546.00L360.20 546.05L359.95 546.04L359.70 546.03L359.45 546.02L359.20 545.99L358.95 545.92L358.70 545.94L358.45 545.82L358.20 545.65L357.95 545.41L357.70 545.09L357.45 544.56L357.20 543.86Z" fill="#ff00ff" shape-rendering="crispEdges"/>
<path d="M357.20 664.67L357.45 663.88L357.70 663.37L357.95 663.06L358.20 662.85L358.45 662.69L358.70 662.58L358.95 662.51L359.20 662.45L359.45 662.39L359.70 662.33L359.95 662.27L360.20 662.21L360.45 662.15L360.70 662.08L360.95 662.02L361.20 661.96L361.45 661.90L361.70 661.84L361.95 661.78L362.20 661.72L362.45 661.65L362.70 661.59L362.95 661.53L363.20 661.47L363.45 661.41L363.70 661.35L363.95 661.29L364.20 661.22L364.45 661.16L364.70 661.10L364.95 661.04L365.20 660.98L365.45 660.92L365.70 660.86L365.95 660.80L366.20 660.74L366.45 660.67L366.70 660.61L366.95 660.55L367.20 660.49L367.45 660.43L367.70 660.37L367.95 660.31L368.20 660.25L368.45 660.19L368.70 660.13L368.95 660.06L369.20 660.00L369.45 659.94L369.70 659.88L369.95 659.82L370.20 659.76L370.45 659.70L370.70 659.64L370.80 659.61L372.80 659.13L374.80 658.65L376.80 658.16L378.80 657.68L380.80 657.20L382.80 656.72L384.80 656.24L386.80 655.77L388.80 655.29L390.80 654.82L392.80 654.35L394.80 653.87L396.80 653.40L398.80 652.93L400.80 652.47L402.80 652.00L404.80 651.53L406.80 651.07L408.80 650.61L410.80 650.14L412.80 649.68L414.80 649.22L416.80 648.77L418.80 648.31L420.80 647.85L422.80 647.40L424.80 646.95L426.80 646.49L428.80 646.04L430.80 645.59L432.80 645.15L434.80 644.70L436.80 644.25L438.80 643.81L440.80 643.36L442.80 642.92L444.80 642.48L446.80 642.04L448.80 641.60L450.80 641.17L452.80 640.73L454.80 640.30L456.80 639.86L458.80 639.43L460.80 639.00L462.80 638.57L464.80 638.14L466.80 637.71L468.80 637.29L470.80 636.86L472.80 636.44L474.80 636.02L476.80 635.60L478.80 635.18L480.80 634.76L482.80 634.34L484.80 633.92L486.80 633.51L488.80 633.10L490.80 632.68L492.80 632.27L494.80 631.86L496.80 631.45L498.80 631.05L500.80 630.64L502.80 630.24L504.80 629.83L506.80 629.43L508.80 629.03L510.80 628.63L512.80 628.23L514.80 627.83L516.80 627.43L518.80 627.04L520.80 626.65L522.80 626.25L524.80 625.86L526.80 625.47L528.80 625.08L530.80 624.70L532.80 624.31L534.80 623.92L536.80 623.54L538.80 623.16L540.80 622.78L542.80 622.39L544.80 622.02L546.80 621.64L548.80 621.26L550.80 620.89L552.80 620.51L554.80 620.14L556.80 619.77L558.80 619.40L560.80 619.03L562.80 618.66L564.80 618.29L566.80 617.93L568.80 617.56L570.80 617.20L572.80 616.84L574.80 616.48L576.80 616.12L578.80 615.76L580.80 615.40L582.80 615.05L584.80 614.69L586.80 614.34L588.80 613.99L590.80 613.64L592.80 613.29L594.80 612.94L596.80 612.59L598.80 612.25L600.80 611.90L602.80 611.56L604.80 611.22L606.80 610.88L608.80 610.54L610.80 610.20L612.80 609.86L614.80 609.53L616.80 609.19L618.80 608.86L620.80 608.53L622.80 608.20L624.80 607.87L626.80 607.54L628.80 607.21L630.80 606.88L632.80 606.56L634.80 606.24L636.80 605.91L638.80 605.59L640.80 605.27L642.80 604.95L644.80 604.64L646.80 604.32L648.80 604.01L650.80 603.69L652.80 603.38L654.80 603.07L656.80 602.76L658.80 602.45L660.80 602.14L662.80 601.84L664.80 601.53L666.80 601.23L668.80 600.93L670.80 600.62L672.80 600.32L674.80 600.02L676.80 599.73L678.80 599.43L680.80 599.14L682.80 598.84L684.80 598.55L686.80 598.26L688.80 597.97L690.80 597.68L692.80 597.39L694.80 597.10L696.80 596.82L698.80 596.54L700.80 596.25L702.80 595.97L704.80 595.69L706.80 595.41L708.80 595.13L710.80 594.86L712.80 594.58L714.80 594.31L716.80 594.04L718.80 593.76L720.80 593.49L722.80 593.22L724.80 592.96L726.80 592.69L728.80 592.42L730.80 592.16L732.80 591.90L734.80 591.63L736.80 591.37L738.80 591.12L740.80 590.86L742.80 590.60L744.80 590.34L746.80 590.09L748.80 589.84L750.80 589.59L752.80 589.33L754.80 589.09L756.80 588.84L758.80 588.59L760.80 588.34L762.80 588.10L764.80 587.86L766.80 587.61L768.80 587.37L770.80 587.13L772.80 586.90L774.80 586.66L776.80 586.42L778.80 586.19L780.80 585.96L782.80 585.72L784.80 585.49L786.80 585.26L788.80 585.03L790.80 584.81L792.80 584.58L794.80 584.36L796.80 584.13L798.80 583.91L800.80 583.69L802.80 583.47L804.80 583.25L806.80 583.03L808.80 582.82L810.80 582.60L812.80 582.39L814.80 582.18L816.80 581.97L818.80 581.76L820.80 581.55L822.80 581.34L824.80 581.13L826.80 580.93L828.80 580.73L830.80 580.52L832.80 580.32L834.80 580.12L836.80 579.92L838.80 579.73L840.80 579.53L842.80 579.33L844.80 579.14L846.80 578.95L848.80 578.76L850.80 578.57L852.80 578.38L854.80 578.19L856.80 578.00L858.80 577.82L860.80 577.63L862.80 577.45L864.80 577.27L866.80 577.09L868.80 576.91L870.80 576.73L872.80 576.56L874.80 576.38L876.80 576.21L878.80 576.03L880.80 575.86L882.80 575.69L884.80 575.52L886.80 575.35L888.80 575.19L890.80 575.02L892.80 574.86L894.80 574.69L896.80 574.53L898.80 574.37L900.80 574.21L902.80 574.06L904.80 573.90L906.80 573.74L908.80 573.59L910.80 573.44L912.80 573.28L914.80 573.13L916.80 572.98L918.80 572.84L920.80 572.69L922.80 572.54L924.80 572.40L926.80 572.25L928.80 572.11L930.80 571.97L932.80 571.83L934.80 571.69L936.80 571.56L938.80 571.42L940.80 571.29L942.80 571.15L944.80 571.02L946.80 570.89L948.80 570.76L950.80 570.63L952.80 570.51L954.80 570.38L956.80 570.25L958.80 570.13L960.80 570.01L962.80 569.89L964.80 569.77L966.80 569.65L968.80 569.53L970.80 569.42L972.80 569.30L974.80 569.19L976.80 569.08L978.80 568.96L980.80 568.86L982.80 568.75L984.80 568.64L986.80 568.53L988.80 568.43L990.80 568.32L992.80 568.22L994.80 568.12L996.80 568.02L998.80 567.92L1000.80 567.82L1002.80 567.73L1004.80 567.63L1006.80 567.54L1008.80 567.45L1010.80 567.36L1012.80 567.27L1014.80 567.18L1016.80 567.09L1018.80 567.00L1020.80 566.92L1022.80 566.83L1024.80 566.75L1026.80 566.67L1028.80 566.59L1030.80 566.51L1032.80 566.43L1034.80 566.36L1036.80 566.28L1038.80 566.21L1040.80 566.13L1042.80 566.06L1044.80 565.99L1046.80 565.92L1048.80 565.85L1050.80 565.79L1052.80 565.72L1054.80 565.66L1056.80 565.59L1058.80 565.53L1060.80 565.47L1062.80 565.41L1064.80 565.35L1066.80 565.30L1068.80 565.24L1070.80 565.19L1072.80 565.13L1074.80 565.08L1076.80 565.03L1078.80 564.98L1080.80 564.93L1082.80 564.89L1084.80 564.84L1086.80 564.80L1088.80 564.75L1090.80 564.71L1092.80 564.67L1094.80 564.63L1096.80 564.59L1098.80 564.56L1100.80 564.52L1102.80 564.49L1104.80 564.45L1106.80 564.42L1108.80 564.39L1110.80 564.36L1112.80 564.33L1114.80 564.31L1116.80 564.28L1118.80 564.25L1120.80 564.23L1122.80 564.21L1124.80 564.19L1126.80 564.17L1128.80 564.15L1130.80 564.13L1132.80 564.12L1134.80 564.10L1136.80 564.09L1138.80 564.08L1140.80 564.06L1142.80 564.05L1144.80 564.05L1146.80 564.04L1148.80 564.03L1150.80 564.03L1152.80 564.02L1154.80 564.02L1156.80 564.02L1158.80 564.02L1160.80 564.02L1162.80 564.02L1164.80 564.02L1166.80 564.03L1168.80 564.03L1170.80 564.04L1172.80 564.04L1174.80 564.05L1176.80 564.06L1178.80 564.07L1180.80 564.08L1182.80 564.09L1184.80 564.11L1186.80 564.12L1188.80 564.14L1190.80 564.16L1192.80 564.18L1194.80 564.20L1196.80 564.22L1198.80 564.24L1200.80 564.26L1202.80 564.29L1204.80 564.32L1206.80 564.34L1208.80 564.37L1210.80 564.40L1212.80 564.43L1214.80 564.47L1216.80 564.50L1218.80 564.54L1220.80 564.57L1222.80 564.61L1224.80 564.65L1226.80 564.69L1228.80 564.73L1230.80 564.77L1232.80 564.82L1234.80 564.86L1236.80 564.91L1238.80 564.95L1240.80 565.00L1242.80 565.05L1244.80 565.10L1246.80 565.16L1248.80 565.21L1250.80 565.27L1252.80 565.32L1254.80 565.38L1256.80 565.44L1258.80 565.50L1260.80 565.56L1262.80 565.62L1264.80 565.68L1266.80 565.75L1268.80 565.81L1270.80 565.88L1272.80 565.95L1274.80 566.02L1276.80 566.09L1278.80 566.16L1280.80 566.24L1282.80 566.31L1284.80 566.39L1286.80 566.46L1288.80 566.54L1290.80 566.62L1292.80 566.70L1294.80 566.78L1296.80 566.87L1298.80 566.95L1300.80 567.04L1302.80 567.13L1304.80 567.21L1306.80 567.30L1308.80 567.39L1310.80 567.49L1312.80 567.58L1314.80 567.67L1316.80 567.77L1318.80 567.87L1320.80 567.96L1322.80 568.06L1324.80 568.16L1326.80 568.26L1328.80 568.37L1330.80 568.47L1332.80 568.58L1334.80 568.68L1336.80 568.79L1338.80 568.90L1340.80 569.01L1342.80 569.12L1344.80 569.24L1346.80 569.35L1348.80 569.47L1350.80 569.58L1352.80 569.70L1354.80 569.82L1356.80 569.94L1358.80 570.06L1360.80 570.18L1362.80 570.31L1364.80 570.43L1366.80 570.56L1368.80 570.69L1370.80 570.82L1372.80 570.95L1374.80 571.08L1376.80 571.21L1378.80 571.34L1380.80 571.48L1382.80 571.61L1384.80 571.75L1386.80 571.89L1388.80 572.03L1390.80 572.17L1392.80 572.31L1394.80 572.46L1396.80 572.60L1398.80 572.75L1400.80 572.90L1402.80 573.05L1404.80 573.20L1406.80 573.35L1408.80 573.50L1410.80 573.65L1412.80 573.81L1414.80 573.96L1416.80 574.12L1418.80 574.28L1420.80 574.44L1422.80 574.60L1424.80 574.76L1426.80 574.93L1428.80 575.09L1430.80 575.26L1432.80 575.42L1434.80 575.59L1436.80 575.76L1438.80 575.93L1440.80 576.11L1442.80 576.28L1444.80 576.45L1446.80 576.63L1448.80 576.81L1450.80 576.98L1452.80 577.16L1454.80 577.35L1456.80 577.53L1458.80 577.71L1460.80 577.89L1462.80 578.08L1464.80 578.27L1466.80 578.46L1468.80 578.65L1470.80 578.84L1472.80 579.03L1474.80 579.22L1476.80 579.42L1478.80 579.61L1480.80 579.81L1482.80 580.01L1484.80 580.21L1486.80 580.41L1488.80 580.61L1490.80 580.81L1492.80 581.02L1494.80 581.22L1496.80 581.43L1498.80 581.64L1500.80 581.84L1502.80 582.06L1504.80 582.27L1506.80 582.48L1508.80 582.69L1510.80 582.91L1512.80 583.13L1514.80 583.34L1516.80 583.56L1518.80 583.78L1520.80 584.00L1522.80 584.23L1524.80 584.45L1526.80 584.68L1528.80 584.90L1530.80 585.13L1532.80 585.36L1534.80 585.59L1536.80 585.82L1538.80 586.05L1540.80 586.29L1542.80 586.52L1544.80 586.76L1546.80 587.00L1548.80 587.23L1550.80 587.47L1552.80 587.72L1554.80 587.96L1556.80 588.20L1558.80 588.45L1560.80 588.69L1562.80 588.94L1564.80 589.19L1566.80 589.44L1568.80 589.69L1570.80 589.94L1572.80 590.20L1574.80 590.45L1576.80 590.71L1578.80 590.96L1580.80 591.22L1582.80 591.48L1584.80 591.74L1586.80 592.01L1588.80 592.27L1590.80 592.53L1592.80 592.80L1594.80 593.07L1596.80 593.34L1598.80 593.61L1600.80 593.88L1602.80 594.15L1604.80 594.42L1606.80 594.70L1608.80 594.97L1610.80 595.25L1612.80 595.53L1614.80 595.81L1616.80 596.09L1618.80 596.37L1620.80 596.65L1622.80 596.94L1624.80 597.22L1626.80 597.51L1628.80 597.80L1630.80 598.09L1632.80 598.38L1634.80 598.67L1636.80 598.96L1638.80 599.26L1640.80 599.55L1642.80 599.85L1644.80 600.15L1646.80 600.45L1648.80 600.75L1650.80 601.05L1652.80 601.35L1654.80 601.66L1656.80 601.96L1658.80 602.27L1660.80 602.58L1662.80 602.89L1664.80 603.20L1666.80 603.51L1668.80 603.82L1670.80 604.14L1672.80 604.45L1674.80 604.77L1676.80 605.09L1678.80 605.41L1680.80 605.73L1682.80 606.05L1684.80 606.37L1686.80 606.70L1688.80 607.02L1690.80 607.35L1692.80 607.68L1694.80 608.00L1696.80 608.33L1698.80 608.67L1700.80 609.00L1702.80 609.33L1704.80 609.67L1706.80 610.00L1708.80 610.34L1710.80 610.68L1712.80 611.02L1714.80 611.36L1716.80 611.70L1718.80 612.05L1720.80 612.39L1722.80 612.74L1724.80 613.09L1726.80 613.44L1728.80 613.79L1730.80 614.14L1732.80 614.49L1734.80 614.84L1736.80 615.20L1738.80 615.55L1740.80 615.91L1742.80 616.27L1744.80 616.63L1746.80 616.99L1748.80 617.35L1750.80 617.72L1752.80 618.08L1754.80 618.45L1756.80 618.81L1758.80 619.18L1760.80 619.55L1762.80 619.92L1764.80 620.29L1766.80 620.67L1768.80 621.04L1770.80 621.42L1772.80 621.80L1774.80 622.17L1776.80 622.55L1778.80 622.93L1780.80 623.32L1782.80 623.70L1784.80 624.08L1786.80 624.47L1788.80 624.86L1790.80 625.25L1792.80 625.63L1794.80 626.03L1796.80 626.42L1798.80 626.81L1800.80 627.21L1802.80 627.60L1804.80 628.00L1806.80 628.40L1808.80 628.79L1810.80 629.20L1812.80 629.60L1814.80 630.00L1816.80 630.40L1818.80 630.81L1820.80 631.22L1822.80 631.62L1824.80 632.03L1826.80 632.44L1828.80 632.86L1830.80 633.27L1832.80 633.68L1834.80 634.10L1836.80 634.52L1838.80 634.93L1840.80 635.35L1842.80 635.77L1844.80 636.19L1846.80 636.62L1848.80 637.04L1850.80 637.47L1852.80 637.89L1854.80 638.32L1856.80 638.75L1858.80 639.18L1860.80 639.61L1862.80 640.04L1864.80 640.48L1866.80 640.91L1868.80 641.35L1869.70 641.55L1869.95 641.60L1870.20 641.66L1870.45 641.71L1870.70 641.77L1870.95 641.82L1871.20 641.87L1871.45 641.93L1871.70 641.98L1871.95 642.04L1872.20 642.09L1872.45 642.15L1872.70 642.20L1872.95 642.26L1873.20 642.31L1873.45 642.37L1873.70 642.42L1873.95 642.48L1874.20 642.53L1874.45 642.59L1874.70 642.64L1874.95 642.70L1875.20 642.75L1875.45 642.81L1875.70 642.86L1875.95 642.92L1876.20 642.98L1876.45 643.03L1876.70 643.09L1876.95 643.14L1877.20 643.20L1877.45 643.25L1877.70 643.31L1877.95 643.36L1878.20 643.42L1878.45 643.47L1878.70 643.53L1878.95 643.58L1879.20 643.64L1879.45 643.69L1879.70 643.75L1879.95 643.81L1880.20 643.86L1880.45 643.92L1880.70 643.97L1880.95 644.03L1881.20 644.08L1881.45 644.14L1881.70 644.21L1881.95 644.32L1882.20 644.41L1882.45 644.60L1882.70 644.85L1882.95 645.24L1883.20 646.29L1883.20 649.49L1882.95 650.56L1882.70 650.95L1882.45 651.21L1882.20 651.41L1881.95 651.46L1881.70 651.57L1881.45 651.65L1881.20 651.69L1880.95 651.70L1880.70 651.71L1880.45 651.71L1880.20 651.69L1879.95 651.69L1879.70 651.70L1879.45 651.70L1879.20 651.71L1878.95 651.71L1878.70 651.69L1878.45 651.69L1878.20 651.70L1877.95 651.70L1877.70 651.70L1877.45 651.67L1877.20 651.61L1876.95 651.56L1876.70 651.50L1876.45 651.45L1876.20 651.39L1875.95 651.33L1875.70 651.28L1875.45 651.22L1875.20 651.17L1874.95 651.11L1874.70 651.06L1874.45 651.00L1874.20 650.95L1873.95 650.89L1873.70 650.84L1873.45 650.78L1873.20 650.72L1872.95 650.67L1872.70 650.61L1872.45 650.56L1872.20 650.50L1871.95 650.45L1871.70 650.39L1871.45 650.34L1871.20 650.28L1870.95 650.23L1870.70 650.17L1870.45 650.12L1870.20 650.06L1869.95 650.01L1869.70 649.95L1868.80 649.75L1866.80 649.32L1864.80 648.88L1862.80 648.44L1860.80 648.01L1858.80 647.57L1856.80 647.14L1854.80 646.71L1852.80 646.28L1850.80 645.85L1848.80 645.42L1846.80 644.99L1844.80 644.57L1842.80 644.15L1840.80 643.72L1838.80 643.30L1836.80 642.88L1834.80 642.46L1832.80 642.04L1830.80 641.63L1828.80 641.21L1826.80 640.80L1824.80 640.38L1822.80 639.97L1820.80 639.56L1818.80 639.15L1816.80 638.74L1814.80 638.34L1812.80 637.93L1810.80 637.53L1808.80 637.12L1806.80 636.72L1804.80 636.32L1802.80 635.92L1800.80 635.52L1798.80 635.13L1796.80 634.73L1794.80 634.34L1792.80 633.94L1790.80 633.55L1788.80 633.16L1786.80 632.77L1784.80 632.38L1782.80 632.00L1780.80 631.61L1778.80 631.23L1776.80 630.84L1774.80 630.46L1772.80 630.08L1770.80 629.70L1768.80 629.32L1766.80 628.95L1764.80 628.57L1762.80 628.19L1760.80 627.82L1758.80 627.45L1756.80 627.08L1754.80 626.71L1752.80 626.34L1750.80 625.97L1748.80 625.61L1746.80 625.24L1744.80 624.88L1742.80 624.52L1740.80 624.15L1738.80 623.79L1736.80 623.44L1734.80 623.08L1732.80 622.72L1730.80 622.37L1728.80 622.01L1726.80 621.66L1724.80 621.31L1722.80 620.96L1720.80 620.61L1718.80 620.26L1716.80 619.92L1714.80 619.57L1712.80 619.23L1710.80 618.89L1708.80 618.55L1706.80 618.21L1704.80 617.87L1702.80 617.53L1700.80 617.19L1698.80 616.86L1696.80 616.52L1694.80 616.19L1692.80 615.86L1690.80 615.53L1688.80 615.20L1686.80 614.87L1684.80 614.55L1682.80 614.22L1680.80 613.90L1678.80 613.58L1676.80 613.25L1674.80 612.93L1672.80 612.61L1670.80 612.30L1668.80 611.98L1666.80 611.67L1664.80 611.35L1662.80 611.04L1660.80 610.73L1658.80 610.42L1656.80 610.11L1654.80 609.80L1652.80 609.49L1650.80 609.19L1648.80 608.88L1646.80 608.58L1644.80 608.28L1642.80 607.98L1640.80 607.68L1638.80 607.38L1636.80 607.08L1634.80 606.79L1632.80 606.49L1630.80 606.20L1628.80 605.91L1626.80 605.62L1624.80 605.33L1622.80 605.04L1620.80 604.75L1618.80 604.47L1616.80 604.18L1614.80 603.90L1612.80 603.62L1610.80 603.34L1608.80 603.06L1606.80 602.78L1604.80 602.50L1602.80 602.23L1600.80 601.95L1598.80 601.68L1596.80 601.41L1594.80 601.14L1592.80 600.87L1590.80 600.60L1588.80 600.33L1586.80 600.07L1584.80 599.80L1582.80 599.54L1580.80 599.28L1578.80 599.02L1576.80 598.76L1574.80 598.50L1572.80 598.24L1570.80 597.98L1568.80 597.73L1566.80 597.48L1564.80 597.22L1562.80 596.97L1560.80 596.72L1558.80 596.47L1556.80 596.23L1554.80 595.98L1552.80 595.74L1550.80 595.49L1548.80 595.25L1546.80 595.01L1544.80 594.77L1542.80 594.53L1540.80 594.29L1538.80 594.06L1536.80 593.82L1534.80 593.59L1532.80 593.36L1530.80 593.12L1528.80 592.89L1526.80 592.67L1524.80 592.44L1522.80 592.21L1520.80 591.99L1518.80 591.76L1516.80 591.54L1514.80 591.32L1512.80 591.10L1510.80 590.88L1508.80 590.66L1506.80 590.45L1504.80 590.23L1502.80 590.02L1500.80 589.80L1498.80 589.59L1496.80 589.38L1494.80 589.17L1492.80 588.97L1490.80 588.76L1488.80 588.55L1486.80 588.35L1484.80 588.15L1482.80 587.95L1480.80 587.75L1478.80 587.55L1476.80 587.35L1474.80 587.15L1472.80 586.96L1470.80 586.76L1468.80 586.57L1466.80 586.38L1464.80 586.19L1462.80 586.00L1460.80 585.81L1458.80 585.62L1456.80 585.44L1454.80 585.25L1452.80 585.07L1450.80 584.89L1448.80 584.71L1446.80 584.53L1444.80 584.35L1442.80 584.18L1440.80 584.00L1438.80 583.83L1436.80 583.65L1434.80 583.48L1432.80 583.31L1430.80 583.14L1428.80 582.97L1426.80 582.81L1424.80 582.64L1422.80 582.48L1420.80 582.31L1418.80 582.15L1416.80 581.99L1414.80 581.83L1412.80 581.67L1410.80 581.51L1408.80 581.36L1406.80 581.20L1404.80 581.05L1402.80 580.90L1400.80 580.75L1398.80 580.60L1396.80 580.45L1394.80 580.30L1392.80 580.16L1390.80 580.01L1388.80 579.87L1386.80 579.73L1384.80 579.59L1382.80 579.45L1380.80 579.31L1378.80 579.17L1376.80 579.03L1374.80 578.90L1372.80 578.77L1370.80 578.63L1368.80 578.50L1366.80 578.37L1364.80 578.24L1362.80 578.12L1360.80 577.99L1358.80 577.87L1356.80 577.74L1354.80 577.62L1352.80 577.50L1350.80 577.38L1348.80 577.26L1346.80 577.14L1344.80 577.03L1342.80 576.91L1340.80 576.80L1338.80 576.68L1336.80 576.57L1334.80 576.46L1332.80 576.35L1330.80 576.25L1328.80 576.14L1326.80 576.03L1324.80 575.93L1322.80 575.83L1320.80 575.73L1318.80 575.63L1316.80 575.53L1314.80 575.43L1312.80 575.33L1310.80 575.24L1308.80 575.14L1306.80 575.05L1304.80 574.96L1302.80 574.87L1300.80 574.78L1298.80 574.69L1296.80 574.61L1294.80 574.52L1292.80 574.44L1290.80 574.35L1288.80 574.27L1286.80 574.19L1284.80 574.11L1282.80 574.04L1280.80 573.96L1278.80 573.88L1276.80 573.81L1274.80 573.74L1272.80 573.66L1270.80 573.59L1268.80 573.52L1266.80 573.46L1264.80 573.39L1262.80 573.32L1260.80 573.26L1258.80 573.20L1256.80 573.14L1254.80 573.07L1252.80 573.02L1250.80 572.96L1248.80 572.90L1246.80 572.84L1244.80 572.79L1242.80 572.74L1240.80 572.69L1238.80 572.63L1236.80 572.59L1234.80 572.54L1232.80 572.49L1230.80 572.44L1228.80 572.40L1226.80 572.36L1224.80 572.31L1222.80 572.27L1220.80 572.23L1218.80 572.20L1216.80 572.16L1214.80 572.12L1212.80 572.09L1210.80 572.05L1208.80 572.02L1206.80 571.99L1204.80 571.96L1202.80 571.93L1200.80 571.91L1198.80 571.88L1196.80 571.86L1194.80 571.83L1192.80 571.81L1190.80 571.79L1188.80 571.77L1186.80 571.75L1184.80 571.73L1182.80 571.72L1180.80 571.70L1178.80 571.69L1176.80 571.68L1174.80 571.66L1172.80 571.65L1170.80 571.65L1168.80 571.64L1166.80 571.63L1164.80 571.63L1162.80 571.62L1160.80 571.62L1158.80 571.62L1156.80 571.62L1154.80 571.63L1152.80 571.63L1150.80 571.64L1148.80 571.64L1146.80 571.65L1144.80 571.66L1142.80 571.67L1140.80 571.68L1138.80 571.70L1136.80 571.71L1134.80 571.73L1132.80 571.74L1130.80 571.76L1128.80 571.78L1126.80 571.80L1124.80 571.82L1122.80 571.85L1120.80 571.87L1118.80 571.90L1116.80 571.92L1114.80 571.95L1112.80 571.98L1110.80 572.01L1108.80 572.04L1106.80 572.07L1104.80 572.11L1102.80 572.14L1100.80 572.18L1098.80 572.22L1096.80 572.26L1094.80 572.30L1092.80 572.34L1090.80 572.38L1088.80 572.43L1086.80 572.47L1084.80 572.52L1082.80 572.56L1080.80 572.61L1078.80 572.66L1076.80 572.72L1074.80 572.77L1072.80 572.82L1070.80 572.88L1068.80 572.93L1066.80 572.99L1064.80 573.05L1062.80 573.11L1060.80 573.17L1058.80 573.23L1056.80 573.30L1054.80 573.36L1052.80 573.43L1050.80 573.50L1048.80 573.56L1046.80 573.63L1044.80 573.71L1042.80 573.78L1040.80 573.85L1038.80 573.93L1036.80 574.00L1034.80 574.08L1032.80 574.16L1030.80 574.24L1028.80 574.32L1026.80 574.40L1024.80 574.49L1022.80 574.57L1020.80 574.66L1018.80 574.74L1016.80 574.83L1014.80 574.92L1012.80 575.01L1010.80 575.11L1008.80 575.20L1006.80 575.29L1004.80 575.39L1002.80 575.49L1000.80 575.59L998.80 575.68L996.80 575.79L994.80 575.89L992.80 575.99L990.80 576.10L988.80 576.20L986.80 576.31L984.80 576.42L982.80 576.53L980.80 576.64L978.80 576.75L976.80 576.86L974.80 576.98L972.80 577.09L970.80 577.21L968.80 577.33L966.80 577.45L964.80 577.57L962.80 577.69L960.80 577.81L958.80 577.94L956.80 578.06L954.80 578.19L952.80 578.32L950.80 578.45L948.80 578.58L946.80 578.71L944.80 578.84L942.80 578.98L940.80 579.11L938.80 579.25L936.80 579.39L934.80 579.53L932.80 579.67L930.80 579.81L928.80 579.95L926.80 580.10L924.80 580.24L922.80 580.39L920.80 580.54L918.80 580.69L916.80 580.84L914.80 580.99L912.80 581.14L910.80 581.29L908.80 581.45L906.80 581.61L904.80 581.76L902.80 581.92L900.80 582.08L898.80 582.24L896.80 582.41L894.80 582.57L892.80 582.74L890.80 582.90L888.80 583.07L886.80 583.24L884.80 583.41L882.80 583.58L880.80 583.75L878.80 583.93L876.80 584.10L874.80 584.28L872.80 584.46L870.80 584.63L868.80 584.81L866.80 585.00L864.80 585.18L862.80 585.36L860.80 585.55L858.80 585.73L856.80 585.92L854.80 586.11L852.80 586.30L850.80 586.49L848.80 586.68L846.80 586.88L844.80 587.07L842.80 587.27L840.80 587.46L838.80 587.66L836.80 587.86L834.80 588.06L832.80 588.27L830.80 588.47L828.80 588.67L826.80 588.88L824.80 589.09L822.80 589.30L820.80 589.50L818.80 589.72L816.80 589.93L814.80 590.14L812.80 590.36L810.80 590.57L808.80 590.79L806.80 591.01L804.80 591.23L802.80 591.45L800.80 591.67L798.80 591.89L796.80 592.12L794.80 592.34L792.80 592.57L790.80 592.80L788.80 593.03L786.80 593.26L784.80 593.49L782.80 593.72L780.80 593.96L778.80 594.19L776.80 594.43L774.80 594.67L772.80 594.91L770.80 595.15L768.80 595.39L766.80 595.63L764.80 595.88L762.80 596.12L760.80 596.37L758.80 596.62L756.80 596.87L754.80 597.12L752.80 597.37L750.80 597.62L748.80 597.88L746.80 598.13L744.80 598.39L742.80 598.65L740.80 598.91L738.80 599.17L736.80 599.43L734.80 599.69L732.80 599.96L730.80 600.22L728.80 600.49L726.80 600.76L724.80 601.03L722.80 601.30L720.80 601.57L718.80 601.84L716.80 602.11L714.80 602.39L712.80 602.67L710.80 602.94L708.80 603.22L706.80 603.50L704.80 603.78L702.80 604.07L700.80 604.35L698.80 604.64L696.80 604.92L694.80 605.21L692.80 605.50L690.80 605.79L688.80 606.08L686.80 606.37L684.80 606.67L682.80 606.96L680.80 607.26L678.80 607.55L676.80 607.85L674.80 608.15L672.80 608.45L670.80 608.76L668.80 609.06L666.80 609.36L664.80 609.67L662.80 609.98L660.80 610.29L658.80 610.60L656.80 610.91L654.80 611.22L652.80 611.53L650.80 611.85L648.80 612.16L646.80 612.48L644.80 612.80L642.80 613.12L640.80 613.44L638.80 613.76L636.80 614.09L634.80 614.41L632.80 614.74L630.80 615.06L628.80 615.39L626.80 615.72L624.80 616.05L622.80 616.38L620.80 616.72L618.80 617.05L616.80 617.39L614.80 617.73L612.80 618.06L610.80 618.40L608.80 618.74L606.80 619.09L604.80 619.43L602.80 619.77L600.80 620.12L598.80 620.47L596.80 620.81L594.80 621.16L592.80 621.51L590.80 621.87L588.80 622.22L586.80 622.57L584.80 622.93L582.80 623.29L580.80 623.64L578.80 624.00L576.80 624.36L574.80 624.73L572.80 625.09L570.80 625.45L568.80 625.82L566.80 626.19L564.80 626.55L562.80 626.92L560.80 627.29L558.80 627.67L556.80 628.04L554.80 628.41L552.80 628.79L550.80 629.16L548.80 629.54L546.80 629.92L544.80 630.30L542.80 630.68L540.80 631.07L538.80 631.45L536.80 631.84L534.80 632.22L532.80 632.61L530.80 633.00L528.80 633.39L526.80 633.78L524.80 634.17L522.80 634.57L520.80 634.96L518.80 635.36L516.80 635.76L514.80 636.15L512.80 636.55L510.80 636.96L508.80 637.36L506.80 637.76L504.80 638.17L502.80 638.57L500.80 638.98L498.80 639.39L496.80 639.80L494.80 640.21L492.80 640.62L490.80 641.04L488.80 641.45L486.80 641.87L484.80 642.29L482.80 642.70L480.80 643.12L478.80 643.55L476.80 643.97L474.80 644.39L472.80 644.82L470.80 645.24L468.80 645.67L466.80 646.10L464.80 646.53L462.80 646.96L460.80 647.39L458.80 647.82L456.80 648.26L454.80 648.70L452.80 649.13L450.80 649.57L448.80 650.01L446.80 650.45L444.80 650.89L442.80 651.34L440.80 651.78L438.80 652.23L436.80 652.67L434.80 653.12L432.80 653.57L430.80 654.02L428.80 654.47L426.80 654.93L424.80 655.38L422.80 655.84L420.80 656.30L418.80 656.75L416.80 657.21L414.80 657.67L412.80 658.14L410.80 658.60L408.80 659.06L406.80 659.53L404.80 660.00L402.80 660.46L400.80 660.93L398.80 661.40L396.80 661.88L394.80 662.35L392.80 662.82L390.80 663.30L388.80 663.77L386.80 664.25L384.80 664.73L382.80 665.21L380.80 665.69L378.80 666.18L376.80 666.66L374.80 667.15L372.80 667.63L370.80 668.12L370.70 668.15L370.45 668.21L370.20 668.27L369.95 668.33L369.70 668.39L369.45 668.45L369.20 668.51L368.95 668.57L368.70 668.64L368.45 668.70L368.20 668.76L367.95 668.82L367.70 668.88L367.45 668.94L367.20 669.00L366.95 669.06L366.70 669.13L366.45 669.19L366.20 669.25L365.95 669.31L365.70 669.37L365.45 669.43L365.20 669.49L364.95 669.56L364.70 669.62L364.45 669.68L364.20 669.74L363.95 669.80L363.70 669.86L363.45 669.93L363.20 669.99L362.95 670.04L362.70 670.05L362.45 670.05L362.20 670.04L361.95 670.07L361.70 670.06L361.45 670.06L361.20 670.05L360.95 670.05L360.70 670.04L360.45 670.04L360.20 670.07L359.95 670.06L359.70 670.06L359.45 670.05L359.20 670.02L358.95 669.96L358.70 669.95L358.45 669.83L358.20 669.67L357.95 669.44L357.70 669.12L357.45 668.60L357.20 667.87Z" fill="#ff0000" shape-rendering="crispEdges"/>
<path d="M357.20 902.42L357.45 901.62L357.70 901.11L357.95 900.81L358.20 900.59L358.45 900.44L358.70 900.33L358.95 900.25L359.20 900.17L359.45 900.09L359.70 900.01L359.95 899.93L360.20 899.85L360.45 899.77L360.70 899.70L360.95 899.62L361.20 899.54L361.45 899.46L361.70 899.38L361.95 899.30L362.20 899.22L362.45 899.14L362.70 899.06L362.95 898.98L363.20 898.90L363.45 898.82L363.70 898.74L363.95 898.66L364.20 898.58L364.45 898.51L364.70 898.43L364.95 898.35L365.20 898.27L365.45 898.19L365.70 898.11L365.95 898.03L366.20 897.95L366.45 897.87L366.70 897.79L366.95 897.72L367.20 897.64L367.45 897.56L367.70 897.48L367.95 897.40L368.20 897.32L368.45 897.24L368.70 897.16L368.95 897.09L369.20 897.01L369.45 896.93L369.70 896.85L369.95 896.77L370.20 896.69L370.45 896.61L370.70 896.53L370.80 896.50L372.80 895.88L374.80 895.25L376.80 894.63L378.80 894.00L380.80 893.38L382.80 892.76L384.80 892.14L386.80 891.53L388.80 890.91L390.80 890.30L392.80 889.69L394.80 889.07L396.80 888.47L398.80 887.86L400.80 887.25L402.80 886.65L404.80 886.04L406.80 885.44L408.80 884.84L410.80 884.24L412.80 883.65L414.80 883.05L416.80 882.46L418.80 881.86L420.80 881.27L422.80 880.68L424.80 880.09L426.80 879.51L428.80 878.92L430.80 878.34L432.80 877.76L434.80 877.18L436.80 876.60L438.80 876.02L440.80 875.45L442.80 874.87L444.80 874.30L446.80 873.73L448.80 873.16L450.80 872.59L452.80 872.02L454.80 871.46L456.80 870.89L458.80 870.33L460.80 869.77L462.80 869.21L464.80 868.65L466.80 868.10L468.80 867.54L470.80 866.99L472.80 866.44L474.80 865.89L476.80 865.34L478.80 864.79L480.80 864.25L482.80 863.70L484.80 863.16L486.80 862.62L488.80 862.08L490.80 861.54L492.80 861.01L494.80 860.47L496.80 859.94L498.80 859.40L500.80 858.87L502.80 858.35L504.80 857.82L506.80 857.29L508.80 856.77L510.80 856.25L512.80 855.72L514.80 855.20L516.80 854.69L518.80 854.17L520.80 853.65L522.80 853.14L524.80 852.63L526.80 852.12L528.80 851.61L530.80 851.10L532.80 850.60L534.80 850.09L536.80 849.59L538.80 849.09L540.80 848.59L542.80 848.09L544.80 847.59L546.80 847.10L548.80 846.60L550.80 846.11L552.80 845.62L554.80 845.13L556.80 844.64L558.80 844.16L560.80 843.67L562.80 843.19L564.80 842.71L566.80 842.23L568.80 841.75L570.80 841.27L572.80 840.79L574.80 840.32L576.80 839.85L578.80 839.38L580.80 838.91L582.80 838.44L584.80 837.97L586.80 837.51L588.80 837.04L590.80 836.58L592.80 836.12L594.80 835.66L596.80 835.20L598.80 834.75L600.80 834.29L602.80 833.84L604.80 833.39L606.80 832.94L608.80 832.49L610.80 832.04L612.80 831.60L614.80 831.15L616.80 830.71L618.80 830.27L620.80 829.83L622.80 829.39L624.80 828.96L626.80 828.52L628.80 828.09L630.80 827.66L632.80 827.23L634.80 826.80L636.80 826.37L638.80 825.95L640.80 825.52L642.80 825.10L644.80 824.68L646.80 824.26L648.80 823.84L650.80 823.42L652.80 823.01L654.80 822.60L656.80 822.18L658.80 821.77L660.80 821.36L662.80 820.96L664.80 820.55L666.80 820.15L668.80 819.74L670.80 819.34L672.80 818.94L674.80 818.54L676.80 818.15L678.80 817.75L680.80 817.36L682.80 816.97L684.80 816.58L686.80 816.19L688.80 815.80L690.80 815.41L692.80 815.03L694.80 814.64L696.80 814.26L698.80 813.88L700.80 813.50L702.80 813.13L704.80 812.75L706.80 812.38L708.80 812.01L710.80 811.63L712.80 811.26L714.80 810.90L716.80 810.53L718.80 810.17L720.80 809.80L722.80 809.44L724.80 809.08L726.80 808.72L728.80 808.36L730.80 808.01L732.80 807.65L734.80 807.30L736.80 806.95L738.80 806.60L740.80 806.25L742.80 805.90L744.80 805.56L746.80 805.22L748.80 804.87L750.80 804.53L752.80 804.19L754.80 803.86L756.80 803.52L758.80 803.19L760.80 802.85L762.80 802.52L764.80 802.19L766.80 801.86L768.80 801.54L770.80 801.21L772.80 800.89L774.80 800.56L776.80 800.24L778.80 799.92L780.80 799.60L782.80 799.29L784.80 798.97L786.80 798.66L788.80 798.35L790.80 798.04L792.80 797.73L794.80 797.42L796.80 797.12L798.80 796.81L800.80 796.51L802.80 796.21L804.80 795.91L806.80 795.61L808.80 795.31L810.80 795.02L812.80 794.72L814.80 794.43L816.80 794.14L818.80 793.85L820.80 793.57L822.80 793.28L824.80 792.99L826.80 792.71L828.80 792.43L830.80 792.15L832.80 791.87L834.80 791.59L836.80 791.32L838.80 791.05L840.80 790.77L842.80 790.50L844.80 790.23L846.80 789.97L848.80 789.70L850.80 789.43L852.80 789.17L854.80 788.91L856.80 788.65L858.80 788.39L860.80 788.13L862.80 787.88L864.80 787.62L866.80 787.37L868.80 787.12L870.80 786.87L872.80 786.62L874.80 786.38L876.80 786.13L878.80 785.89L880.80 785.64L882.80 785.40L884.80 785.17L886.80 784.93L888.80 784.69L890.80 784.46L892.80 784.22L894.80 783.99L896.80 783.76L898.80 783.53L900.80 783.31L902.80 783.08L904.80 782.86L906.80 782.64L908.80 782.42L910.80 782.20L912.80 781.98L914.80 781.76L916.80 781.55L918.80 781.34L920.80 781.12L922.80 780.91L924.80 780.70L926.80 780.50L928.80 780.29L930.80 780.09L932.80 779.88L934.80 779.68L936.80 779.48L938.80 779.29L940.80 779.09L942.80 778.89L944.80 778.70L946.80 778.51L948.80 778.32L950.80 778.13L952.80 777.94L954.80 777.76L956.80 777.57L958.80 777.39L960.80 777.21L962.80 777.03L964.80 776.85L966.80 776.67L968.80 776.50L970.80 776.32L972.80 776.15L974.80 775.98L976.80 775.81L978.80 775.64L980.80 775.48L982.80 775.31L984.80 775.15L986.80 774.99L988.80 774.83L990.80 774.67L992.80 774.51L994.80 774.36L996.80 774.20L998.80 774.05L1000.80 773.90L1002.80 773.75L1004.80 773.60L1006.80 773.46L1008.80 773.31L1010.80 773.17L1012.80 773.03L1014.80 772.88L1016.80 772.75L1018.80 772.61L1020.80 772.47L1022.80 772.34L1024.80 772.21L1026.80 772.07L1028.80 771.94L1030.80 771.82L1032.80 771.69L1034.80 771.56L1036.80 771.44L1038.80 771.32L1040.80 771.20L1042.80 771.08L1044.80 770.96L1046.80 770.85L1048.80 770.73L1050.80 770.62L1052.80 770.51L1054.80 770.40L1056.80 770.29L1058.80 770.18L1060.80 770.08L1062.80 769.97L1064.80 769.87L1066.80 769.77L1068.80 769.67L1070.80 769.57L1072.80 769.47L1074.80 769.38L1076.80 769.29L1078.80 769.20L1080.80 769.10L1082.80 769.02L1084.80 768.93L1086.80 768.84L1088.80 768.76L1090.80 768.68L1092.80 768.59L1094.80 768.52L1096.80 768.44L1098.80 768.36L1100.80 768.29L1102.80 768.21L1104.80 768.14L1106.80 768.07L1108.80 768.00L1110.80 767.93L1112.80 767.87L1114.80 767.80L1116.80 767.74L1118.80 767.68L1120.80 767.62L1122.80 767.56L1124.80 767.50L1126.80 767.45L1128.80 767.39L1130.80 767.34L1132.80 767.29L1134.80 767.24L1136.80 767.19L1138.80 767.15L1140.80 767.10L1142.80 767.06L1144.80 767.02L1146.80 766.98L1148.80 766.94L1150.80 766.90L1152.80 766.86L1154.80 766.83L1156.80 766.80L1158.80 766.77L1160.80 766.74L1162.80 766.71L1164.80 766.68L1166.80 766.66L1168.80 766.63L1170.80 766.61L1172.80 766.59L1174.80 766.57L1176.80 766.55L1178.80 766.54L1180.80 766.52L1182.80 766.51L1184.80 766.50L1186.80 766.49L1188.80 766.48L1190.80 766.47L1192.80 766.47L1194.80 766.47L1196.80 766.46L1198.80 766.46L1200.80 766.46L1202.80 766.46L1204.80 766.46L1206.80 766.47L1208.80 766.47L1210.80 766.48L1212.80 766.48L1214.80 766.49L1216.80 766.50L1218.80 766.52L1220.80 766.53L1222.80 766.54L1224.80 766.56L1226.80 766.58L1228.80 766.60L1230.80 766.62L1232.80 766.64L1234.80 766.67L1236.80 766.69L1238.80 766.72L1240.80 766.75L1242.80 766.78L1244.80 766.81L1246.80 766.84L1248.80 766.88L1250.80 766.91L1252.80 766.95L1254.80 766.99L1256.80 767.03L1258.80 767.07L1260.80 767.12L1262.80 767.16L1264.80 767.21L1266.80 767.26L1268.80 767.31L1270.80 767.36L1272.80 767.41L1274.80 767.47L1276.80 767.52L1278.80 767.58L1280.80 767.64L1282.80 767.70L1284.80 767.76L1286.80 767.83L1288.80 767.89L1290.80 767.96L1292.80 768.03L1294.80 768.10L1296.80 768.17L1298.80 768.24L1300.80 768.31L1302.80 768.39L1304.80 768.47L1306.80 768.55L1308.80 768.63L1310.80 768.71L1312.80 768.79L1314.80 768.88L1316.80 768.96L1318.80 769.05L1320.80 769.14L1322.80 769.23L1324.80 769.32L1326.80 769.42L1328.80 769.51L1330.80 769.61L1332.80 769.71L1334.80 769.81L1336.80 769.91L1338.80 770.01L1340.80 770.12L1342.80 770.22L1344.80 770.33L1346.80 770.44L1348.80 770.55L1350.80 770.66L1352.80 770.77L1354.80 770.89L1356.80 771.01L1358.80 771.12L1360.80 771.24L1362.80 771.37L1364.80 771.49L1366.80 771.61L1368.80 771.74L1370.80 771.87L1372.80 771.99L1374.80 772.12L1376.80 772.26L1378.80 772.39L1380.80 772.52L1382.80 772.66L1384.80 772.80L1386.80 772.94L1388.80 773.08L1390.80 773.22L1392.80 773.37L1394.80 773.51L1396.80 773.66L1398.80 773.81L1400.80 773.96L1402.80 774.11L1404.80 774.26L1406.80 774.42L1408.80 774.57L1410.80 774.73L1412.80 774.89L1414.80 775.05L1416.80 775.21L1418.80 775.38L1420.80 775.54L1422.80 775.71L1424.80 775.88L1426.80 776.05L1428.80 776.22L1430.80 776.39L1432.80 776.56L1434.80 776.74L1436.80 776.92L1438.80 777.10L1440.80 777.28L1442.80 777.46L1444.80 777.64L1446.80 777.83L1448.80 778.01L1450.80 778.20L1452.80 778.39L1454.80 778.58L1456.80 778.77L1458.80 778.97L1460.80 779.16L1462.80 779.36L1464.80 779.56L1466.80 779.76L1468.80 779.96L1470.80 780.17L1472.80 780.37L1474.80 780.58L1476.80 780.78L1478.80 780.99L1480.80 781.20L1482.80 781.42L1484.80 781.63L1486.80 781.85L1488.80 782.06L1490.80 782.28L1492.80 782.50L1494.80 782.72L1496.80 782.94L1498.80 783.17L1500.80 783.39L1502.80 783.62L1504.80 783.85L1506.80 784.08L1508.80 784.31L1510.80 784.55L1512.80 784.78L1514.80 785.02L1516.80 785.26L1518.80 785.50L1520.80 785.74L1522.80 785.98L1524.80 786.22L1526.80 786.47L1528.80 786.72L1530.80 786.97L1532.80 787.22L1534.80 787.47L1536.80 787.72L1538.80 787.97L1540.80 788.23L1542.80 788.49L1544.80 788.75L1546.80 789.01L1548.80 789.27L1550.80 789.54L1552.80 789.80L1554.80 790.07L1556.80 790.34L1558.80 790.61L1560.80 790.88L1562.80 791.15L1564.80 791.42L1566.80 791.70L1568.80 791.98L1570.80 792.26L1572.80 792.54L1574.80 792.82L1576.80 793.10L1578.80 793.39L1580.80 793.68L1582.80 793.96L1584.80 794.25L1586.80 794.54L1588.80 794.84L1590.80 795.13L1592.80 795.43L1594.80 795.72L1596.80 796.02L1598.80 796.32L1600.80 796.62L1602.80 796.93L1604.80 797.23L1606.80 797.54L1608.80 797.85L1610.80 798.16L1612.80 798.47L1614.80 798.78L1616.80 799.09L1618.80 799.41L1620.80 799.73L1622.80 800.04L1624.80 800.37L1626.80 800.69L1628.80 801.01L1630.80 801.33L1632.80 801.66L1634.80 801.99L1636.80 802.32L1638.80 802.65L1640.80 802.98L1642.80 803.31L1644.80 803.65L1646.80 803.99L1648.80 804.32L1650.80 804.66L1652.80 805.00L1654.80 805.35L1656.80 805.69L1658.80 806.04L1660.80 806.38L1662.80 806.73L1664.80 807.08L1666.80 807.44L1668.80 807.79L1670.80 808.14L1672.80 808.50L1674.80 808.86L1676.80 809.22L1678.80 809.58L1680.80 809.94L1682.80 810.30L1684.80 810.67L1686.80 811.04L1688.80 811.41L1690.80 811.78L1692.80 812.15L1694.80 812.52L1696.80 812.90L1698.80 813.27L1700.80 813.65L1702.80 814.03L1704.80 814.41L1706.80 814.79L1708.80 815.17L1710.80 815.56L1712.80 815.95L1714.80 816.33L1716.80 816.72L1718.80 817.12L1720.80 817.51L1722.80 817.90L1724.80 818.30L1726.80 818.70L1728.80 819.10L1730.80 819.50L1732.80 819.90L1734.80 820.30L1736.80 820.71L1738.80 821.11L1740.80 821.52L1742.80 821.93L1744.80 822.34L1746.80 822.75L1748.80 823.17L1750.80 823.58L1752.80 824.00L1754.80 824.42L1756.80 824.84L1758.80 825.26L1760.80 825.68L1762.80 826.11L1764.80 826.54L1766.80 826.96L1768.80 827.39L1770.80 827.82L1772.80 828.26L1774.80 828.69L1776.80 829.12L1778.80 829.56L1780.80 830.00L1782.80 830.44L1784.80 830.88L1786.80 831.32L1788.80 831.77L1790.80 832.21L1792.80 832.66L1794.80 833.11L1796.80 833.56L1798.80 834.01L1800.80 834.47L1802.80 834.92L1804.80 835.38L1806.80 835.84L1808.80 836.30L1810.80 836.76L1812.80 837.22L1814.80 837.68L1816.80 838.15L1818.80 838.62L1820.80 839.09L1822.80 839.56L1824.80 840.03L1826.80 840.50L1828.80 840.98L1830.80 841.45L1832.80 841.93L1834.80 842.41L1836.80 842.89L1838.80 843.37L1840.80 843.86L1842.80 844.34L1844.80 844.83L1846.80 845.32L1848.80 845.81L1850.80 846.30L1852.80 846.79L1854.80 847.29L1856.80 847.78L1858.80 848.28L1860.80 848.78L1862.80 849.28L1864.80 849.78L1866.80 850.28L1868.80 850.79L1869.70 851.02L1869.95 851.08L1870.20 851.14L1870.45 851.21L1870.70 851.27L1870.95 851.33L1871.20 851.40L1871.45 851.46L1871.70 851.52L1871.95 851.59L1872.20 851.65L1872.45 851.72L1872.70 851.78L1872.95 851.84L1873.20 851.91L1873.45 851.97L1873.70 852.03L1873.95 852.10L1874.20 852.16L1874.45 852.22L1874.70 852.29L1874.95 852.35L1875.20 852.42L1875.45 852.48L1875.70 852.54L1875.95 852.61L1876.20 852.67L1876.45 852.74L1876.70 852.80L1876.95 852.86L1877.20 852.93L1877.45 852.99L1877.70 853.06L1877.95 853.12L1878.20 853.18L1878.45 853.25L1878.70 853.31L1878.95 853.38L1879.20 853.44L1879.45 853.50L1879.70 853.57L1879.95 853.63L1880.20 853.70L1880.45 853.76L1880.70 853.83L1880.95 853.89L1881.20 853.95L1881.45 854.02L1881.70 854.09L1881.95 854.20L1882.20 854.30L1882.45 854.48L1882.70 854.74L1882.95 855.12L1883.20 856.18L1883.20 859.38L1882.95 860.44L1882.70 860.83L1882.45 861.10L1882.20 861.29L1881.95 861.34L1881.70 861.46L1881.45 861.54L1881.20 861.58L1880.95 861.59L1880.70 861.60L1880.45 861.60L1880.20 861.57L1879.95 861.58L1879.70 861.58L1879.45 861.59L1879.20 861.59L1878.95 861.60L1878.70 861.57L1878.45 861.58L1878.20 861.58L1877.95 861.59L1877.70 861.59L1877.45 861.55L1877.20 861.49L1876.95 861.43L1876.70 861.36L1876.45 861.30L1876.20 861.23L1875.95 861.17L1875.70 861.11L1875.45 861.04L1875.20 860.98L1874.95 860.91L1874.70 860.85L1874.45 860.78L1874.20 860.72L1873.95 860.66L1873.70 860.59L1873.45 860.53L1873.20 860.46L1872.95 860.40L1872.70 860.34L1872.45 860.27L1872.20 860.21L1871.95 860.14L1871.70 860.08L1871.45 860.02L1871.20 859.95L1870.95 859.89L1870.70 859.82L1870.45 859.76L1870.20 859.70L1869.95 859.63L1869.70 859.57L1868.80 859.34L1866.80 858.83L1864.80 858.33L1862.80 857.82L1860.80 857.32L1858.80 856.81L1856.80 856.31L1854.80 855.81L1852.80 855.32L1850.80 854.82L1848.80 854.32L1846.80 853.83L1844.80 853.34L1842.80 852.85L1840.80 852.36L1838.80 851.87L1836.80 851.39L1834.80 850.90L1832.80 850.42L1830.80 849.94L1828.80 849.46L1826.80 848.98L1824.80 848.51L1822.80 848.03L1820.80 847.56L1818.80 847.09L1816.80 846.62L1814.80 846.15L1812.80 845.68L1810.80 845.21L1808.80 844.75L1806.80 844.29L1804.80 843.83L1802.80 843.37L1800.80 842.91L1798.80 842.45L1796.80 842.00L1794.80 841.54L1792.80 841.09L1790.80 840.64L1788.80 840.19L1786.80 839.74L1784.80 839.30L1782.80 838.85L1780.80 838.41L1778.80 837.97L1776.80 837.53L1774.80 837.09L1772.80 836.65L1770.80 836.22L1768.80 835.78L1766.80 835.35L1764.80 834.92L1762.80 834.49L1760.80 834.06L1758.80 833.64L1756.80 833.21L1754.80 832.79L1752.80 832.37L1750.80 831.95L1748.80 831.53L1746.80 831.11L1744.80 830.70L1742.80 830.28L1740.80 829.87L1738.80 829.46L1736.80 829.05L1734.80 828.64L1732.80 828.23L1730.80 827.83L1728.80 827.42L1726.80 827.02L1724.80 826.62L1722.80 826.22L1720.80 825.83L1718.80 825.43L1716.80 825.04L1714.80 824.64L1712.80 824.25L1710.80 823.86L1708.80 823.47L1706.80 823.09L1704.80 822.70L1702.80 822.32L1700.80 821.94L1698.80 821.55L1696.80 821.18L1694.80 820.80L1692.80 820.42L1690.80 820.05L1688.80 819.67L1686.80 819.30L1684.80 818.93L1682.80 818.56L1680.80 818.20L1678.80 817.83L1676.80 817.47L1674.80 817.10L1672.80 816.74L1670.80 816.38L1668.80 816.03L1666.80 815.67L1664.80 815.31L1662.80 814.96L1660.80 814.61L1658.80 814.26L1656.80 813.91L1654.80 813.56L1652.80 813.22L1650.80 812.87L1648.80 812.53L1646.80 812.19L1644.80 811.85L1642.80 811.51L1640.80 811.17L1638.80 810.84L1636.80 810.51L1634.80 810.17L1632.80 809.84L1630.80 809.51L1628.80 809.19L1626.80 808.86L1624.80 808.54L1622.80 808.21L1620.80 807.89L1618.80 807.57L1616.80 807.25L1614.80 806.94L1612.80 806.62L1610.80 806.31L1608.80 806.00L1606.80 805.68L1604.80 805.38L1602.80 805.07L1600.80 804.76L1598.80 804.46L1596.80 804.15L1594.80 803.85L1592.80 803.55L1590.80 803.25L1588.80 802.96L1586.80 802.66L1584.80 802.37L1582.80 802.07L1580.80 801.78L1578.80 801.49L1576.80 801.21L1574.80 800.92L1572.80 800.63L1570.80 800.35L1568.80 800.07L1566.80 799.79L1564.80 799.51L1562.80 799.23L1560.80 798.96L1558.80 798.68L1556.80 798.41L1554.80 798.14L1552.80 797.87L1550.80 797.60L1548.80 797.33L1546.80 797.07L1544.80 796.80L1542.80 796.54L1540.80 796.28L1538.80 796.02L1536.80 795.76L1534.80 795.51L1532.80 795.25L1530.80 795.00L1528.80 794.75L1526.80 794.50L1524.80 794.25L1522.80 794.00L1520.80 793.76L1518.80 793.51L1516.80 793.27L1514.80 793.03L1512.80 792.79L1510.80 792.55L1508.80 792.32L1506.80 792.08L1504.80 791.85L1502.80 791.62L1500.80 791.39L1498.80 791.16L1496.80 790.93L1494.80 790.71L1492.80 790.48L1490.80 790.26L1488.80 790.04L1486.80 789.82L1484.80 789.60L1482.80 789.38L1480.80 789.17L1478.80 788.95L1476.80 788.74L1474.80 788.53L1472.80 788.32L1470.80 788.12L1468.80 787.91L1466.80 787.71L1464.80 787.50L1462.80 787.30L1460.80 787.10L1458.80 786.90L1456.80 786.71L1454.80 786.51L1452.80 786.32L1450.80 786.12L1448.80 785.93L1446.80 785.74L1444.80 785.56L1442.80 785.37L1440.80 785.19L1438.80 785.00L1436.80 784.82L1434.80 784.64L1432.80 784.46L1430.80 784.29L1428.80 784.11L1426.80 783.94L1424.80 783.76L1422.80 783.59L1420.80 783.42L1418.80 783.26L1416.80 783.09L1414.80 782.92L1412.80 782.76L1410.80 782.60L1408.80 782.44L1406.80 782.28L1404.80 782.12L1402.80 781.97L1400.80 781.81L1398.80 781.66L1396.80 781.51L1394.80 781.36L1392.80 781.21L1390.80 781.06L1388.80 780.92L1386.80 780.78L1384.80 780.63L1382.80 780.49L1380.80 780.35L1378.80 780.22L1376.80 780.08L1374.80 779.95L1372.80 779.81L1370.80 779.68L1368.80 779.55L1366.80 779.42L1364.80 779.30L1362.80 779.17L1360.80 779.05L1358.80 778.92L1356.80 778.80L1354.80 778.68L1352.80 778.57L1350.80 778.45L1348.80 778.34L1346.80 778.22L1344.80 778.11L1342.80 778.00L1340.80 777.89L1338.80 777.78L1336.80 777.68L1334.80 777.57L1332.80 777.47L1330.80 777.37L1328.80 777.27L1326.80 777.17L1324.80 777.08L1322.80 776.98L1320.80 776.89L1318.80 776.80L1316.80 776.71L1314.80 776.62L1312.80 776.53L1310.80 776.44L1308.80 776.36L1306.80 776.28L1304.80 776.20L1302.80 776.12L1300.80 776.04L1298.80 775.96L1296.80 775.89L1294.80 775.81L1292.80 775.74L1290.80 775.67L1288.80 775.60L1286.80 775.53L1284.80 775.47L1282.80 775.40L1280.80 775.34L1278.80 775.28L1276.80 775.22L1274.80 775.16L1272.80 775.10L1270.80 775.05L1268.80 774.99L1266.80 774.94L1264.80 774.89L1262.80 774.84L1260.80 774.79L1258.80 774.75L1256.80 774.70L1254.80 774.66L1252.80 774.62L1250.80 774.58L1248.80 774.54L1246.80 774.50L1244.80 774.46L1242.80 774.43L1240.80 774.40L1238.80 774.37L1236.80 774.34L1234.80 774.31L1232.80 774.28L1230.80 774.26L1228.80 774.23L1226.80 774.21L1224.80 774.19L1222.80 774.17L1220.80 774.15L1218.80 774.14L1216.80 774.12L1214.80 774.11L1212.80 774.10L1210.80 774.09L1208.80 774.08L1206.80 774.07L1204.80 774.07L1202.80 774.07L1200.80 774.06L1198.80 774.06L1196.80 774.07L1194.80 774.07L1192.80 774.08L1190.80 774.09L1188.80 774.10L1186.80 774.11L1184.80 774.12L1182.80 774.13L1180.80 774.15L1178.80 774.16L1176.80 774.18L1174.80 774.20L1172.80 774.22L1170.80 774.25L1168.80 774.27L1166.80 774.30L1164.80 774.33L1162.80 774.35L1160.80 774.38L1158.80 774.42L1156.80 774.45L1154.80 774.49L1152.80 774.52L1150.80 774.56L1148.80 774.60L1146.80 774.64L1144.80 774.68L1142.80 774.73L1140.80 774.77L1138.80 774.82L1136.80 774.87L1134.80 774.92L1132.80 774.97L1130.80 775.03L1128.80 775.08L1126.80 775.14L1124.80 775.19L1122.80 775.25L1120.80 775.32L1118.80 775.38L1116.80 775.44L1114.80 775.51L1112.80 775.57L1110.80 775.64L1108.80 775.71L1106.80 775.78L1104.80 775.86L1102.80 775.93L1100.80 776.01L1098.80 776.09L1096.80 776.16L1094.80 776.25L1092.80 776.33L1090.80 776.41L1088.80 776.50L1086.80 776.58L1084.80 776.67L1082.80 776.76L1080.80 776.85L1078.80 776.95L1076.80 777.04L1074.80 777.14L1072.80 777.23L1070.80 777.33L1068.80 777.43L1066.80 777.54L1064.80 777.64L1062.80 777.74L1060.80 777.85L1058.80 777.96L1056.80 778.07L1054.80 778.18L1052.80 778.29L1050.80 778.41L1048.80 778.52L1046.80 778.64L1044.80 778.76L1042.80 778.88L1040.80 779.00L1038.80 779.12L1036.80 779.25L1034.80 779.37L1032.80 779.50L1030.80 779.63L1028.80 779.76L1026.80 779.89L1024.80 780.03L1022.80 780.16L1020.80 780.30L1018.80 780.44L1016.80 780.58L1014.80 780.72L1012.80 780.86L1010.80 781.01L1008.80 781.15L1006.80 781.30L1004.80 781.45L1002.80 781.60L1000.80 781.75L998.80 781.91L996.80 782.06L994.80 782.22L992.80 782.38L990.80 782.54L988.80 782.70L986.80 782.86L984.80 783.03L982.80 783.19L980.80 783.36L978.80 783.53L976.80 783.70L974.80 783.87L972.80 784.04L970.80 784.22L968.80 784.40L966.80 784.57L964.80 784.75L962.80 784.93L960.80 785.12L958.80 785.30L956.80 785.49L954.80 785.67L952.80 785.86L950.80 786.05L948.80 786.24L946.80 786.44L944.80 786.63L942.80 786.83L940.80 787.02L938.80 787.22L936.80 787.42L934.80 787.63L932.80 787.83L930.80 788.04L928.80 788.24L926.80 788.45L924.80 788.66L922.80 788.87L920.80 789.09L918.80 789.30L916.80 789.52L914.80 789.73L912.80 789.95L910.80 790.17L908.80 790.40L906.80 790.62L904.80 790.84L902.80 791.07L900.80 791.30L898.80 791.53L896.80 791.76L894.80 791.99L892.80 792.23L890.80 792.46L888.80 792.70L886.80 792.94L884.80 793.18L882.80 793.42L880.80 793.66L878.80 793.91L876.80 794.16L874.80 794.40L872.80 794.65L870.80 794.90L868.80 795.16L866.80 795.41L864.80 795.67L862.80 795.92L860.80 796.18L858.80 796.44L856.80 796.70L854.80 796.97L852.80 797.23L850.80 797.50L848.80 797.76L846.80 798.03L844.80 798.30L842.80 798.58L840.80 798.85L838.80 799.13L836.80 799.40L834.80 799.68L832.80 799.96L830.80 800.24L828.80 800.53L826.80 800.81L824.80 801.10L822.80 801.38L820.80 801.67L818.80 801.96L816.80 802.25L814.80 802.55L812.80 802.84L810.80 803.14L808.80 803.44L806.80 803.74L804.80 804.04L802.80 804.34L800.80 804.64L798.80 804.95L796.80 805.26L794.80 805.57L792.80 805.88L790.80 806.19L788.80 806.50L786.80 806.82L784.80 807.13L782.80 807.45L780.80 807.77L778.80 808.09L776.80 808.41L774.80 808.74L772.80 809.06L770.80 809.39L768.80 809.72L766.80 810.05L764.80 810.38L762.80 810.71L760.80 811.05L758.80 811.38L756.80 811.72L754.80 812.06L752.80 812.40L750.80 812.74L748.80 813.08L746.80 813.43L744.80 813.78L742.80 814.13L740.80 814.47L738.80 814.83L736.80 815.18L734.80 815.53L732.80 815.89L730.80 816.25L728.80 816.61L726.80 816.97L724.80 817.33L722.80 817.69L720.80 818.06L718.80 818.42L716.80 818.79L714.80 819.16L712.80 819.53L710.80 819.90L708.80 820.28L706.80 820.65L704.80 821.03L702.80 821.41L700.80 821.79L698.80 822.17L696.80 822.55L694.80 822.94L692.80 823.33L690.80 823.71L688.80 824.10L686.80 824.49L684.80 824.89L682.80 825.28L680.80 825.67L678.80 826.07L676.80 826.47L674.80 826.87L672.80 827.27L670.80 827.67L668.80 828.08L666.80 828.48L664.80 828.89L662.80 829.30L660.80 829.71L658.80 830.12L656.80 830.54L654.80 830.95L652.80 831.37L650.80 831.79L648.80 832.21L646.80 832.63L644.80 833.05L642.80 833.47L640.80 833.90L638.80 834.33L636.80 834.76L634.80 835.19L632.80 835.62L630.80 836.05L628.80 836.49L626.80 836.92L624.80 837.36L622.80 837.80L620.80 838.24L618.80 838.68L616.80 839.13L614.80 839.57L612.80 840.02L610.80 840.47L608.80 840.92L606.80 841.37L604.80 841.82L602.80 842.28L600.80 842.73L598.80 843.19L596.80 843.65L594.80 844.11L592.80 844.57L590.80 845.04L588.80 845.50L586.80 845.97L584.80 846.44L582.80 846.91L580.80 847.38L578.80 847.85L576.80 848.32L574.80 848.80L572.80 849.28L570.80 849.76L568.80 850.24L566.80 850.72L564.80 851.20L562.80 851.69L560.80 852.17L558.80 852.66L556.80 853.15L554.80 853.64L552.80 854.14L550.80 854.63L548.80 855.13L546.80 855.62L544.80 856.12L542.80 856.62L540.80 857.12L538.80 857.63L536.80 858.13L534.80 858.64L532.80 859.15L530.80 859.65L528.80 860.17L526.80 860.68L524.80 861.19L522.80 861.71L520.80 862.22L518.80 862.74L516.80 863.26L514.80 863.78L512.80 864.31L510.80 864.83L508.80 865.36L506.80 865.89L504.80 866.41L502.80 866.95L500.80 867.48L498.80 868.01L496.80 868.55L494.80 869.08L492.80 869.62L490.80 870.16L488.80 870.70L486.80 871.24L484.80 871.79L482.80 872.33L480.80 872.88L478.80 873.43L476.80 873.98L474.80 874.53L472.80 875.09L470.80 875.64L468.80 876.20L466.80 876.76L464.80 877.31L462.80 877.88L460.80 878.44L458.80 879.00L456.80 879.57L454.80 880.13L452.80 880.70L450.80 881.27L448.80 881.85L446.80 882.42L444.80 882.99L442.80 883.57L440.80 884.15L438.80 884.73L436.80 885.31L434.80 885.89L432.80 886.47L430.80 887.06L428.80 887.64L426.80 888.23L424.80 888.82L422.80 889.41L420.80 890.01L418.80 890.60L416.80 891.20L414.80 891.79L412.80 892.39L410.80 892.99L408.80 893.60L406.80 894.20L404.80 894.80L402.80 895.41L400.80 896.02L398.80 896.63L396.80 897.24L394.80 897.85L392.80 898.47L390.80 899.08L388.80 899.70L386.80 900.32L384.80 900.94L382.80 901.56L380.80 902.18L378.80 902.81L376.80 903.44L374.80 904.06L372.80 904.69L370.80 905.32L370.70 905.35L370.45 905.43L370.20 905.51L369.95 905.59L369.70 905.67L369.45 905.75L369.20 905.83L368.95 905.91L368.70 905.99L368.45 906.07L368.20 906.15L367.95 906.23L367.70 906.30L367.45 906.38L367.20 906.46L366.95 906.54L366.70 906.62L366.45 906.70L366.20 906.78L365.95 906.86L365.70 906.94L365.45 907.02L365.20 907.10L364.95 907.18L364.70 907.26L364.45 907.34L364.20 907.42L363.95 907.50L363.70 907.58L363.45 907.66L363.20 907.73L362.95 907.78L362.70 907.79L362.45 907.79L362.20 907.78L361.95 907.82L361.70 907.81L361.45 907.80L361.20 907.80L360.95 907.79L360.70 907.78L360.45 907.78L360.20 907.81L359.95 907.81L359.70 907.80L359.45 907.79L359.20 907.76L358.95 907.70L358.70 907.70L358.45 907.58L358.20 907.41L357.95 907.18L357.70 906.86L357.45 906.34L357.20 905.62Z" fill="#0000ff" shape-rendering="crispEdges"/>
<path d="M357.20 1020.67L357.45 1019.89L357.70 1019.38L357.95 1019.07L358.20 1018.85L358.45 1018.69L358.70 1018.58L358.95 1018.53L359.20 1018.47L359.45 1018.43L359.70 1018.39L359.95 1018.35L360.20 1018.31L360.45 1018.27L360.70 1018.23L360.95 1018.19L361.20 1018.15L361.45 1018.12L361.70 1018.08L361.95 1018.04L362.20 1018.00L362.45 1017.96L362.70 1017.92L362.95 1017.88L363.20 1017.84L363.45 1017.80L363.70 1017.76L363.95 1017.72L364.20 1017.68L364.45 1017.64L364.70 1017.60L364.95 1017.56L365.20 1017.52L365.45 1017.48L365.70 1017.44L365.95 1017.40L366.20 1017.36L366.45 1017.32L366.70 1017.28L366.95 1017.24L367.20 1017.20L367.45 1017.16L367.70 1017.12L367.95 1017.08L368.20 1017.05L368.45 1017.01L368.70 1016.97L368.95 1016.93L369.20 1016.89L369.45 1016.85L369.70 1016.81L369.95 1016.77L370.20 1016.73L370.45 1016.69L370.70 1016.65L370.80 1016.64L372.80 1016.32L374.80 1016.01L376.80 1015.70L378.80 1015.38L380.80 1015.07L382.80 1014.76L384.80 1014.45L386.80 1014.14L388.80 1013.84L390.80 1013.53L392.80 1013.22L394.80 1012.92L396.80 1012.61L398.80 1012.31L400.80 1012.01L402.80 1011.70L404.80 1011.40L406.80 1011.10L408.80 1010.80L410.80 1010.50L412.80 1010.21L414.80 1009.91L416.80 1009.61L418.80 1009.32L420.80 1009.02L422.80 1008.73L424.80 1008.43L426.80 1008.14L428.80 1007.85L430.80 1007.56L432.80 1007.27L434.80 1006.98L436.80 1006.69L438.80 1006.40L440.80 1006.11L442.80 1005.83L444.80 1005.54L446.80 1005.26L448.80 1004.97L450.80 1004.69L452.80 1004.41L454.80 1004.13L456.80 1003.85L458.80 1003.57L460.80 1003.29L462.80 1003.01L464.80 1002.73L466.80 1002.46L468.80 1002.18L470.80 1001.90L472.80 1001.63L474.80 1001.36L476.80 1001.08L478.80 1000.81L480.80 1000.54L482.80 1000.27L484.80 1000.00L486.80 999.73L488.80 999.46L490.80 999.20L492.80 998.93L494.80 998.67L496.80 998.40L498.80 998.14L500.80 997.87L502.80 997.61L504.80 997.35L506.80 997.09L508.80 996.83L510.80 996.57L512.80 996.31L514.80 996.05L516.80 995.80L518.80 995.54L520.80 995.29L522.80 995.03L524.80 994.78L526.80 994.52L528.80 994.27L530.80 994.02L532.80 993.77L534.80 993.52L536.80 993.27L538.80 993.02L540.80 992.78L542.80 992.53L544.80 992.29L546.80 992.04L548.80 991.80L550.80 991.55L552.80 991.31L554.80 991.07L556.80 990.83L558.80 990.59L560.80 990.35L562.80 990.11L564.80 989.87L566.80 989.64L568.80 989.40L570.80 989.17L572.80 988.93L574.80 988.70L576.80 988.46L578.80 988.23L580.80 988.00L582.80 987.77L584.80 987.54L586.80 987.31L588.80 987.08L590.80 986.86L592.80 986.63L594.80 986.40L596.80 986.18L598.80 985.96L600.80 985.73L602.80 985.51L604.80 985.29L606.80 985.07L608.80 984.85L610.80 984.63L612.80 984.41L614.80 984.19L616.80 983.97L618.80 983.76L620.80 983.54L622.80 983.33L624.80 983.11L626.80 982.90L628.80 982.69L630.80 982.48L632.80 982.27L634.80 982.06L636.80 981.85L638.80 981.64L640.80 981.43L642.80 981.23L644.80 981.02L646.80 980.82L648.80 980.61L650.80 980.41L652.80 980.20L654.80 980.00L656.80 979.80L658.80 979.60L660.80 979.40L662.80 979.20L664.80 979.01L666.80 978.81L668.80 978.61L670.80 978.42L672.80 978.22L674.80 978.03L676.80 977.84L678.80 977.64L680.80 977.45L682.80 977.26L684.80 977.07L686.80 976.88L688.80 976.69L690.80 976.51L692.80 976.32L694.80 976.13L696.80 975.95L698.80 975.76L700.80 975.58L702.80 975.40L704.80 975.22L706.80 975.03L708.80 974.85L710.80 974.67L712.80 974.50L714.80 974.32L716.80 974.14L718.80 973.96L720.80 973.79L722.80 973.61L724.80 973.44L726.80 973.27L728.80 973.09L730.80 972.92L732.80 972.75L734.80 972.58L736.80 972.41L738.80 972.25L740.80 972.08L742.80 971.91L744.80 971.74L746.80 971.58L748.80 971.42L750.80 971.25L752.80 971.09L754.80 970.93L756.80 970.77L758.80 970.61L760.80 970.45L762.80 970.29L764.80 970.13L766.80 969.97L768.80 969.82L770.80 969.66L772.80 969.50L774.80 969.35L776.80 969.20L778.80 969.05L780.80 968.89L782.80 968.74L784.80 968.59L786.80 968.44L788.80 968.29L790.80 968.15L792.80 968.00L794.80 967.85L796.80 967.71L798.80 967.56L800.80 967.42L802.80 967.28L804.80 967.14L806.80 966.99L808.80 966.85L810.80 966.71L812.80 966.58L814.80 966.44L816.80 966.30L818.80 966.16L820.80 966.03L822.80 965.89L824.80 965.76L826.80 965.63L828.80 965.49L830.80 965.36L832.80 965.23L834.80 965.10L836.80 964.97L838.80 964.84L840.80 964.71L842.80 964.59L844.80 964.46L846.80 964.34L848.80 964.21L850.80 964.09L852.80 963.97L854.80 963.84L856.80 963.72L858.80 963.60L860.80 963.48L862.80 963.36L864.80 963.24L866.80 963.13L868.80 963.01L870.80 962.89L872.80 962.78L874.80 962.67L876.80 962.55L878.80 962.44L880.80 962.33L882.80 962.22L884.80 962.11L886.80 962.00L888.80 961.89L890.80 961.78L892.80 961.67L894.80 961.57L896.80 961.46L898.80 961.36L900.80 961.25L902.80 961.15L904.80 961.05L906.80 960.95L908.80 960.85L910.80 960.75L912.80 960.65L914.80 960.55L916.80 960.45L918.80 960.35L920.80 960.26L922.80 960.16L924.80 960.07L926.80 959.98L928.80 959.88L930.80 959.79L932.80 959.70L934.80 959.61L936.80 959.52L938.80 959.43L940.80 959.34L942.80 959.26L944.80 959.17L946.80 959.09L948.80 959.00L950.80 958.92L952.80 958.83L954.80 958.75L956.80 958.67L958.80 958.59L960.80 958.51L962.80 958.43L964.80 958.35L966.80 958.27L968.80 958.20L970.80 958.12L972.80 958.05L974.80 957.97L976.80 957.90L978.80 957.82L980.80 957.75L982.80 957.68L984.80 957.61L986.80 957.54L988.80 957.47L990.80 957.40L992.80 957.34L994.80 957.27L996.80 957.21L998.80 957.14L1000.80 957.08L1002.80 957.01L1004.80 956.95L1006.80 956.89L1008.80 956.83L1010.80 956.77L1012.80 956.71L1014.80 956.65L1016.80 956.59L1018.80 956.54L1020.80 956.48L1022.80 956.43L1024.80 956.37L1026.80 956.32L1028.80 956.26L1030.80 956.21L1032.80 956.16L1034.80 956.11L1036.80 956.06L1038.80 956.01L1040.80 955.96L1042.80 955.92L1044.80 955.87L1046.80 955.82L1048.80 955.78L1050.80 955.74L1052.80 955.69L1054.80 955.65L1056.80 955.61L1058.80 955.57L1060.80 955.53L1062.80 955.49L1064.80 955.45L1066.80 955.41L1068.80 955.37L1070.80 955.34L1072.80 955.30L1074.80 955.27L1076.80 955.23L1078.80 955.20L1080.80 955.17L1082.80 955.14L1084.80 955.11L1086.80 955.08L1088.80 955.05L1090.80 955.02L1092.80 954.99L1094.80 954.97L1096.80 954.94L1098.80 954.92L1100.80 954.89L1102.80 954.87L1104.80 954.85L1106.80 954.82L1108.80 954.80L1110.80 954.78L1112.80 954.76L1114.80 954.74L1116.80 954.73L1118.80 954.71L1120.80 954.69L1122.80 954.68L1124.80 954.66L1126.80 954.65L1128.80 954.64L1130.80 954.62L1132.80 954.61L1134.80 954.60L1136.80 954.59L1138.80 954.58L1140.80 954.58L1142.80 954.57L1144.80 954.56L1146.80 954.56L1148.80 954.55L1150.80 954.55L1152.80 954.54L1154.80 954.54L1156.80 954.54L1158.80 954.54L1160.80 954.54L1162.80 954.54L1164.80 954.54L1166.80 954.54L1168.80 954.54L1170.80 954.54L1172.80 954.54L1174.80 954.55L1176.80 954.55L1178.80 954.56L1180.80 954.57L1182.80 954.57L1184.80 954.58L1186.80 954.59L1188.80 954.60L1190.80 954.61L1192.80 954.62L1194.80 954.63L1196.80 954.65L1198.80 954.66L1200.80 954.67L1202.80 954.69L1204.80 954.70L1206.80 954.72L1208.80 954.74L1210.80 954.76L1212.80 954.78L1214.80 954.80L1216.80 954.82L1218.80 954.84L1220.80 954.86L1222.80 954.88L1224.80 954.91L1226.80 954.93L1228.80 954.96L1230.80 954.98L1232.80 955.01L1234.80 955.04L1236.80 955.07L1238.80 955.10L1240.80 955.13L1242.80 955.16L1244.80 955.19L1246.80 955.22L1248.80 955.26L1250.80 955.29L1252.80 955.33L1254.80 955.36L1256.80 955.40L1258.80 955.44L1260.80 955.47L1262.80 955.51L1264.80 955.55L1266.80 955.59L1268.80 955.64L1270.80 955.68L1272.80 955.72L1274.80 955.76L1276.80 955.81L1278.80 955.86L1280.80 955.90L1282.80 955.95L1284.80 956.00L1286.80 956.04L1288.80 956.09L1290.80 956.14L1292.80 956.20L1294.80 956.25L1296.80 956.30L1298.80 956.35L1300.80 956.41L1302.80 956.46L1304.80 956.52L1306.80 956.57L1308.80 956.63L1310.80 956.69L1312.80 956.75L1314.80 956.81L1316.80 956.87L1318.80 956.93L1320.80 956.99L1322.80 957.06L1324.80 957.12L1326.80 957.18L1328.80 957.25L1330.80 957.32L1332.80 957.38L1334.80 957.45L1336.80 957.52L1338.80 957.59L1340.80 957.66L1342.80 957.73L1344.80 957.80L1346.80 957.87L1348.80 957.95L1350.80 958.02L1352.80 958.10L1354.80 958.17L1356.80 958.25L1358.80 958.33L1360.80 958.40L1362.80 958.48L1364.80 958.56L1366.80 958.64L1368.80 958.72L1370.80 958.81L1372.80 958.89L1374.80 958.97L1376.80 959.06L1378.80 959.14L1380.80 959.23L1382.80 959.32L1384.80 959.40L1386.80 959.49L1388.80 959.58L1390.80 959.67L1392.80 959.76L1394.80 959.85L1396.80 959.95L1398.80 960.04L1400.80 960.13L1402.80 960.23L1404.80 960.32L1406.80 960.42L1408.80 960.52L1410.80 960.62L1412.80 960.71L1414.80 960.81L1416.80 960.91L1418.80 961.02L1420.80 961.12L1422.80 961.22L1424.80 961.32L1426.80 961.43L1428.80 961.53L1430.80 961.64L1432.80 961.75L1434.80 961.85L1436.80 961.96L1438.80 962.07L1440.80 962.18L1442.80 962.29L1444.80 962.40L1446.80 962.52L1448.80 962.63L1450.80 962.74L1452.80 962.86L1454.80 962.97L1456.80 963.09L1458.80 963.21L1460.80 963.32L1462.80 963.44L1464.80 963.56L1466.80 963.68L1468.80 963.80L1470.80 963.93L1472.80 964.05L1474.80 964.17L1476.80 964.30L1478.80 964.42L1480.80 964.55L1482.80 964.67L1484.80 964.80L1486.80 964.93L1488.80 965.06L1490.80 965.19L1492.80 965.32L1494.80 965.45L1496.80 965.58L1498.80 965.72L1500.80 965.85L1502.80 965.98L1504.80 966.12L1506.80 966.26L1508.80 966.39L1510.80 966.53L1512.80 966.67L1514.80 966.81L1516.80 966.95L1518.80 967.09L1520.80 967.23L1522.80 967.37L1524.80 967.52L1526.80 967.66L1528.80 967.81L1530.80 967.95L1532.80 968.10L1534.80 968.25L1536.80 968.40L1538.80 968.54L1540.80 968.69L1542.80 968.84L1544.80 969.00L1546.80 969.15L1548.80 969.30L1550.80 969.46L1552.80 969.61L1554.80 969.77L1556.80 969.92L1558.80 970.08L1560.80 970.24L1562.80 970.39L1564.80 970.55L1566.80 970.71L1568.80 970.87L1570.80 971.04L1572.80 971.20L1574.80 971.36L1576.80 971.53L1578.80 971.69L1580.80 971.86L1582.80 972.02L1584.80 972.19L1586.80 972.36L1588.80 972.53L1590.80 972.70L1592.80 972.87L1594.80 973.04L1596.80 973.21L1598.80 973.38L1600.80 973.56L1602.80 973.73L1604.80 973.91L1606.80 974.08L1608.80 974.26L1610.80 974.44L1612.80 974.62L1614.80 974.80L1616.80 974.98L1618.80 975.16L1620.80 975.34L1622.80 975.52L1624.80 975.70L1626.80 975.89L1628.80 976.07L1630.80 976.26L1632.80 976.45L1634.80 976.63L1636.80 976.82L1638.80 977.01L1640.80 977.20L1642.80 977.39L1644.80 977.58L1646.80 977.77L1648.80 977.97L1650.80 978.16L1652.80 978.35L1654.80 978.55L1656.80 978.75L1658.80 978.94L1660.80 979.14L1662.80 979.34L1664.80 979.54L1666.80 979.74L1668.80 979.94L1670.80 980.14L1672.80 980.34L1674.80 980.55L1676.80 980.75L1678.80 980.95L1680.80 981.16L1682.80 981.37L1684.80 981.57L1686.80 981.78L1688.80 981.99L1690.80 982.20L1692.80 982.41L1694.80 982.62L1696.80 982.83L1698.80 983.05L1700.80 983.26L1702.80 983.47L1704.80 983.69L1706.80 983.90L1708.80 984.12L1710.80 984.34L1712.80 984.56L1714.80 984.78L1716.80 985.00L1718.80 985.22L1720.80 985.44L1722.80 985.66L1724.80 985.88L1726.80 986.11L1728.80 986.33L1730.80 986.56L1732.80 986.78L1734.80 987.01L1736.80 987.24L1738.80 987.47L1740.80 987.70L1742.80 987.93L1744.80 988.16L1746.80 988.39L1748.80 988.62L1750.80 988.86L1752.80 989.09L1754.80 989.32L1756.80 989.56L1758.80 989.80L1760.80 990.03L1762.80 990.27L1764.80 990.51L1766.80 990.75L1768.80 990.99L1770.80 991.23L1772.80 991.48L1774.80 991.72L1776.80 991.96L1778.80 992.21L1780.80 992.45L1782.80 992.70L1784.80 992.95L1786.80 993.19L1788.80 993.44L1790.80 993.69L1792.80 993.94L1794.80 994.19L1796.80 994.44L1798.80 994.70L1800.80 994.95L1802.80 995.20L1804.80 995.46L1806.80 995.71L1808.80 995.97L1810.80 996.23L1812.80 996.49L1814.80 996.75L1816.80 997.00L1818.80 997.27L1820.80 997.53L1822.80 997.79L1824.80 998.05L1826.80 998.32L1828.80 998.58L1830.80 998.85L1832.80 999.11L1834.80 999.38L1836.80 999.65L1838.80 999.91L1840.80 1000.18L1842.80 1000.45L1844.80 1000.72L1846.80 1001.00L1848.80 1001.27L1850.80 1001.54L1852.80 1001.82L1854.80 1002.09L1856.80 1002.37L1858.80 1002.64L1860.80 1002.92L1862.80 1003.20L1864.80 1003.48L1866.80 1003.76L1868.80 1004.04L1869.70 1004.16L1869.95 1004.20L1870.20 1004.23L1870.45 1004.27L1870.70 1004.30L1870.95 1004.34L1871.20 1004.37L1871.45 1004.41L1871.70 1004.45L1871.95 1004.48L1872.20 1004.52L1872.45 1004.55L1872.70 1004.59L1872.95 1004.62L1873.20 1004.66L1873.45 1004.69L1873.70 1004.73L1873.95 1004.76L1874.20 1004.80L1874.45 1004.83L1874.70 1004.87L1874.95 1004.90L1875.20 1004.94L1875.45 1004.98L1875.70 1005.01L1875.95 1005.05L1876.20 1005.08L1876.45 1005.12L1876.70 1005.15L1876.95 1005.19L1877.20 1005.22L1877.45 1005.26L1877.70 1005.29L1877.95 1005.33L1878.20 1005.37L1878.45 1005.40L1878.70 1005.44L1878.95 1005.47L1879.20 1005.51L1879.45 1005.54L1879.70 1005.58L1879.95 1005.62L1880.20 1005.65L1880.45 1005.69L1880.70 1005.72L1880.95 1005.76L1881.20 1005.79L1881.45 1005.83L1881.70 1005.90L1881.95 1006.01L1882.20 1006.10L1882.45 1006.29L1882.70 1006.55L1882.95 1006.93L1883.20 1007.99L1883.20 1011.19L1882.95 1012.25L1882.70 1012.64L1882.45 1012.91L1882.20 1013.10L1881.95 1013.15L1881.70 1013.27L1881.45 1013.35L1881.20 1013.39L1880.95 1013.40L1880.70 1013.40L1880.45 1013.40L1880.20 1013.39L1879.95 1013.39L1879.70 1013.39L1879.45 1013.39L1879.20 1013.40L1878.95 1013.40L1878.70 1013.38L1878.45 1013.39L1878.20 1013.39L1877.95 1013.39L1877.70 1013.39L1877.45 1013.36L1877.20 1013.32L1876.95 1013.29L1876.70 1013.25L1876.45 1013.22L1876.20 1013.18L1875.95 1013.15L1875.70 1013.11L1875.45 1013.07L1875.20 1013.04L1874.95 1013.00L1874.70 1012.97L1874.45 1012.93L1874.20 1012.90L1873.95 1012.86L1873.70 1012.83L1873.45 1012.79L1873.20 1012.75L1872.95 1012.72L1872.70 1012.68L1872.45 1012.65L1872.20 1012.61L1871.95 1012.58L1871.70 1012.54L1871.45 1012.51L1871.20 1012.47L1870.95 1012.44L1870.70 1012.40L1870.45 1012.36L1870.20 1012.33L1869.95 1012.29L1869.70 1012.26L1868.80 1012.13L1866.80 1011.85L1864.80 1011.57L1862.80 1011.29L1860.80 1011.01L1858.80 1010.73L1856.80 1010.45L1854.80 1010.17L1852.80 1009.90L1850.80 1009.62L1848.80 1009.35L1846.80 1009.07L1844.80 1008.80L1842.80 1008.53L1840.80 1008.26L1838.80 1007.99L1836.80 1007.72L1834.80 1007.45L1832.80 1007.18L1830.80 1006.91L1828.80 1006.64L1826.80 1006.38L1824.80 1006.11L1822.80 1005.85L1820.80 1005.58L1818.80 1005.32L1816.80 1005.06L1814.80 1004.80L1812.80 1004.54L1810.80 1004.28L1808.80 1004.02L1806.80 1003.76L1804.80 1003.50L1802.80 1003.25L1800.80 1002.99L1798.80 1002.74L1796.80 1002.48L1794.80 1002.23L1792.80 1001.98L1790.80 1001.73L1788.80 1001.47L1786.80 1001.22L1784.80 1000.98L1782.80 1000.73L1780.80 1000.48L1778.80 1000.23L1776.80 999.99L1774.80 999.74L1772.80 999.50L1770.80 999.25L1768.80 999.01L1766.80 998.77L1764.80 998.53L1762.80 998.29L1760.80 998.05L1758.80 997.81L1756.80 997.57L1754.80 997.33L1752.80 997.10L1750.80 996.86L1748.80 996.62L1746.80 996.39L1744.80 996.16L1742.80 995.92L1740.80 995.69L1738.80 995.46L1736.80 995.23L1734.80 995.00L1732.80 994.77L1730.80 994.55L1728.80 994.32L1726.80 994.09L1724.80 993.87L1722.80 993.64L1720.80 993.42L1718.80 993.20L1716.80 992.97L1714.80 992.75L1712.80 992.53L1710.80 992.31L1708.80 992.09L1706.80 991.88L1704.80 991.66L1702.80 991.44L1700.80 991.23L1698.80 991.01L1696.80 990.80L1694.80 990.58L1692.80 990.37L1690.80 990.16L1688.80 989.95L1686.80 989.74L1684.80 989.53L1682.80 989.32L1680.80 989.11L1678.80 988.91L1676.80 988.70L1674.80 988.49L1672.80 988.29L1670.80 988.09L1668.80 987.88L1666.80 987.68L1664.80 987.48L1662.80 987.28L1660.80 987.08L1658.80 986.88L1656.80 986.68L1654.80 986.48L1652.80 986.29L1650.80 986.09L1648.80 985.90L1646.80 985.70L1644.80 985.51L1642.80 985.32L1640.80 985.12L1638.80 984.93L1636.80 984.74L1634.80 984.55L1632.80 984.36L1630.80 984.18L1628.80 983.99L1626.80 983.80L1624.80 983.62L1622.80 983.43L1620.80 983.25L1618.80 983.07L1616.80 982.88L1614.80 982.70L1612.80 982.52L1610.80 982.34L1608.80 982.16L1606.80 981.98L1604.80 981.81L1602.80 981.63L1600.80 981.45L1598.80 981.28L1596.80 981.11L1594.80 980.93L1592.80 980.76L1590.80 980.59L1588.80 980.42L1586.80 980.25L1584.80 980.08L1582.80 979.91L1580.80 979.74L1578.80 979.57L1576.80 979.41L1574.80 979.24L1572.80 979.08L1570.80 978.91L1568.80 978.75L1566.80 978.59L1564.80 978.42L1562.80 978.26L1560.80 978.10L1558.80 977.94L1556.80 977.79L1554.80 977.63L1552.80 977.47L1550.80 977.32L1548.80 977.16L1546.80 977.01L1544.80 976.85L1542.80 976.70L1540.80 976.55L1538.80 976.40L1536.80 976.25L1534.80 976.10L1532.80 975.95L1530.80 975.80L1528.80 975.65L1526.80 975.51L1524.80 975.36L1522.80 975.22L1520.80 975.07L1518.80 974.93L1516.80 974.79L1514.80 974.64L1512.80 974.50L1510.80 974.36L1508.80 974.22L1506.80 974.09L1504.80 973.95L1502.80 973.81L1500.80 973.68L1498.80 973.54L1496.80 973.41L1494.80 973.27L1492.80 973.14L1490.80 973.01L1488.80 972.88L1486.80 972.75L1484.80 972.62L1482.80 972.49L1480.80 972.36L1478.80 972.23L1476.80 972.11L1474.80 971.98L1472.80 971.85L1470.80 971.73L1468.80 971.61L1466.80 971.48L1464.80 971.36L1462.80 971.24L1460.80 971.12L1458.80 971.00L1456.80 970.88L1454.80 970.77L1452.80 970.65L1450.80 970.53L1448.80 970.42L1446.80 970.30L1444.80 970.19L1442.80 970.08L1440.80 969.96L1438.80 969.85L1436.80 969.74L1434.80 969.63L1432.80 969.52L1430.80 969.42L1428.80 969.31L1426.80 969.20L1424.80 969.10L1422.80 968.99L1420.80 968.89L1418.80 968.78L1416.80 968.68L1414.80 968.58L1412.80 968.48L1410.80 968.38L1408.80 968.28L1406.80 968.18L1404.80 968.08L1402.80 967.99L1400.80 967.89L1398.80 967.79L1396.80 967.70L1394.80 967.61L1392.80 967.51L1390.80 967.42L1388.80 967.33L1386.80 967.24L1384.80 967.15L1382.80 967.06L1380.80 966.97L1378.80 966.88L1376.80 966.80L1374.80 966.71L1372.80 966.63L1370.80 966.54L1368.80 966.46L1366.80 966.38L1364.80 966.29L1362.80 966.21L1360.80 966.13L1358.80 966.05L1356.80 965.97L1354.80 965.90L1352.80 965.82L1350.80 965.74L1348.80 965.67L1346.80 965.59L1344.80 965.52L1342.80 965.45L1340.80 965.37L1338.80 965.30L1336.80 965.23L1334.80 965.16L1332.80 965.09L1330.80 965.03L1328.80 964.96L1326.80 964.89L1324.80 964.83L1322.80 964.76L1320.80 964.70L1318.80 964.63L1316.80 964.57L1314.80 964.51L1312.80 964.45L1310.80 964.39L1308.80 964.33L1306.80 964.27L1304.80 964.21L1302.80 964.15L1300.80 964.10L1298.80 964.04L1296.80 963.99L1294.80 963.93L1292.80 963.88L1290.80 963.83L1288.80 963.78L1286.80 963.73L1284.80 963.68L1282.80 963.63L1280.80 963.58L1278.80 963.53L1276.80 963.48L1274.80 963.44L1272.80 963.39L1270.80 963.35L1268.80 963.30L1266.80 963.26L1264.80 963.22L1262.80 963.18L1260.80 963.14L1258.80 963.10L1256.80 963.06L1254.80 963.02L1252.80 962.98L1250.80 962.95L1248.80 962.91L1246.80 962.88L1244.80 962.84L1242.80 962.81L1240.80 962.78L1238.80 962.75L1236.80 962.72L1234.80 962.69L1232.80 962.66L1230.80 962.63L1228.80 962.60L1226.80 962.57L1224.80 962.55L1222.80 962.52L1220.80 962.50L1218.80 962.47L1216.80 962.45L1214.80 962.43L1212.80 962.41L1210.80 962.39L1208.80 962.37L1206.80 962.35L1204.80 962.33L1202.80 962.31L1200.80 962.30L1198.80 962.28L1196.80 962.27L1194.80 962.25L1192.80 962.24L1190.80 962.23L1188.80 962.22L1186.80 962.21L1184.80 962.19L1182.80 962.19L1180.80 962.18L1178.80 962.17L1176.80 962.16L1174.80 962.16L1172.80 962.15L1170.80 962.15L1168.80 962.14L1166.80 962.14L1164.80 962.14L1162.80 962.14L1160.80 962.14L1158.80 962.14L1156.80 962.14L1154.80 962.14L1152.80 962.15L1150.80 962.15L1148.80 962.16L1146.80 962.16L1144.80 962.17L1142.80 962.18L1140.80 962.19L1138.80 962.20L1136.80 962.21L1134.80 962.22L1132.80 962.23L1130.80 962.24L1128.80 962.26L1126.80 962.27L1124.80 962.29L1122.80 962.30L1120.80 962.32L1118.80 962.34L1116.80 962.36L1114.80 962.37L1112.80 962.39L1110.80 962.42L1108.80 962.44L1106.80 962.46L1104.80 962.48L1102.80 962.51L1100.80 962.53L1098.80 962.56L1096.80 962.58L1094.80 962.61L1092.80 962.64L1090.80 962.67L1088.80 962.70L1086.80 962.73L1084.80 962.76L1082.80 962.79L1080.80 962.82L1078.80 962.85L1076.80 962.89L1074.80 962.92L1072.80 962.96L1070.80 963.00L1068.80 963.03L1066.80 963.07L1064.80 963.11L1062.80 963.15L1060.80 963.19L1058.80 963.23L1056.80 963.28L1054.80 963.32L1052.80 963.36L1050.80 963.41L1048.80 963.45L1046.80 963.50L1044.80 963.55L1042.80 963.59L1040.80 963.64L1038.80 963.69L1036.80 963.74L1034.80 963.79L1032.80 963.84L1030.80 963.90L1028.80 963.95L1026.80 964.00L1024.80 964.06L1022.80 964.12L1020.80 964.17L1018.80 964.23L1016.80 964.29L1014.80 964.35L1012.80 964.41L1010.80 964.47L1008.80 964.53L1006.80 964.59L1004.80 964.65L1002.80 964.72L1000.80 964.78L998.80 964.85L996.80 964.91L994.80 964.98L992.80 965.05L990.80 965.12L988.80 965.19L986.80 965.26L984.80 965.33L982.80 965.40L980.80 965.47L978.80 965.54L976.80 965.62L974.80 965.69L972.80 965.77L970.80 965.84L968.80 965.92L966.80 966.00L964.80 966.08L962.80 966.16L960.80 966.24L958.80 966.32L956.80 966.40L954.80 966.49L952.80 966.57L950.80 966.65L948.80 966.74L946.80 966.82L944.80 966.91L942.80 967.00L940.80 967.09L938.80 967.18L936.80 967.27L934.80 967.36L932.80 967.45L930.80 967.54L928.80 967.64L926.80 967.73L924.80 967.82L922.80 967.92L920.80 968.02L918.80 968.11L916.80 968.21L914.80 968.31L912.80 968.41L910.80 968.51L908.80 968.61L906.80 968.71L904.80 968.82L902.80 968.92L900.80 969.02L898.80 969.13L896.80 969.24L894.80 969.34L892.80 969.45L890.80 969.56L888.80 969.67L886.80 969.78L884.80 969.89L882.80 970.00L880.80 970.11L878.80 970.23L876.80 970.34L874.80 970.46L872.80 970.57L870.80 970.69L868.80 970.80L866.80 970.92L864.80 971.04L862.80 971.16L860.80 971.28L858.80 971.40L856.80 971.52L854.80 971.65L852.80 971.77L850.80 971.89L848.80 972.02L846.80 972.15L844.80 972.27L842.80 972.40L840.80 972.53L838.80 972.66L836.80 972.79L834.80 972.92L832.80 973.05L830.80 973.18L828.80 973.32L826.80 973.45L824.80 973.58L822.80 973.72L820.80 973.86L818.80 973.99L816.80 974.13L814.80 974.27L812.80 974.41L810.80 974.55L808.80 974.69L806.80 974.83L804.80 974.97L802.80 975.12L800.80 975.26L798.80 975.41L796.80 975.55L794.80 975.70L792.80 975.85L790.80 976.00L788.80 976.14L786.80 976.29L784.80 976.45L782.80 976.60L780.80 976.75L778.80 976.90L776.80 977.06L774.80 977.21L772.80 977.37L770.80 977.52L768.80 977.68L766.80 977.84L764.80 978.00L762.80 978.16L760.80 978.32L758.80 978.48L756.80 978.64L754.80 978.80L752.80 978.96L750.80 979.13L748.80 979.29L746.80 979.46L744.80 979.63L742.80 979.79L740.80 979.96L738.80 980.13L736.80 980.30L734.80 980.47L732.80 980.64L730.80 980.81L728.80 980.99L726.80 981.16L724.80 981.34L722.80 981.51L720.80 981.69L718.80 981.86L716.80 982.04L714.80 982.22L712.80 982.40L710.80 982.58L708.80 982.76L706.80 982.94L704.80 983.13L702.80 983.31L700.80 983.49L698.80 983.68L696.80 983.86L694.80 984.05L692.80 984.24L690.80 984.43L688.80 984.61L686.80 984.80L684.80 984.99L682.80 985.19L680.80 985.38L678.80 985.57L676.80 985.76L674.80 985.96L672.80 986.15L670.80 986.35L668.80 986.55L666.80 986.74L664.80 986.94L662.80 987.14L660.80 987.34L658.80 987.54L656.80 987.74L654.80 987.95L652.80 988.15L650.80 988.35L648.80 988.56L646.80 988.77L644.80 988.97L642.80 989.18L640.80 989.39L638.80 989.60L636.80 989.81L634.80 990.02L632.80 990.23L630.80 990.44L628.80 990.65L626.80 990.87L624.80 991.08L622.80 991.30L620.80 991.51L618.80 991.73L616.80 991.95L614.80 992.16L612.80 992.38L610.80 992.60L608.80 992.82L606.80 993.05L604.80 993.27L602.80 993.49L600.80 993.72L598.80 993.94L596.80 994.17L594.80 994.39L592.80 994.62L590.80 994.85L588.80 995.08L586.80 995.31L584.80 995.54L582.80 995.77L580.80 996.00L578.80 996.23L576.80 996.47L574.80 996.70L572.80 996.94L570.80 997.17L568.80 997.41L566.80 997.65L564.80 997.88L562.80 998.12L560.80 998.36L558.80 998.60L556.80 998.85L554.80 999.09L552.80 999.33L550.80 999.58L548.80 999.82L546.80 1000.07L544.80 1000.31L542.80 1000.56L540.80 1000.81L538.80 1001.06L536.80 1001.31L534.80 1001.56L532.80 1001.81L530.80 1002.06L528.80 1002.31L526.80 1002.56L524.80 1002.82L522.80 1003.07L520.80 1003.33L518.80 1003.59L516.80 1003.84L514.80 1004.10L512.80 1004.36L510.80 1004.62L508.80 1004.88L506.80 1005.14L504.80 1005.41L502.80 1005.67L500.80 1005.93L498.80 1006.20L496.80 1006.46L494.80 1006.73L492.80 1007.00L490.80 1007.26L488.80 1007.53L486.80 1007.80L484.80 1008.07L482.80 1008.34L480.80 1008.62L478.80 1008.89L476.80 1009.16L474.80 1009.44L472.80 1009.71L470.80 1009.99L468.80 1010.26L466.80 1010.54L464.80 1010.82L462.80 1011.10L460.80 1011.38L458.80 1011.66L456.80 1011.94L454.80 1012.22L452.80 1012.50L450.80 1012.79L448.80 1013.07L446.80 1013.36L444.80 1013.64L442.80 1013.93L440.80 1014.22L438.80 1014.51L436.80 1014.80L434.80 1015.09L432.80 1015.38L430.80 1015.67L428.80 1015.96L426.80 1016.26L424.80 1016.55L422.80 1016.85L420.80 1017.14L418.80 1017.44L416.80 1017.74L414.80 1018.03L412.80 1018.33L410.80 1018.63L408.80 1018.93L406.80 1019.23L404.80 1019.54L402.80 1019.84L400.80 1020.14L398.80 1020.45L396.80 1020.75L394.80 1021.06L392.80 1021.37L390.80 1021.67L388.80 1021.98L386.80 1022.29L384.80 1022.60L382.80 1022.91L380.80 1023.22L378.80 1023.54L376.80 1023.85L374.80 1024.16L372.80 1024.48L370.80 1024.79L370.70 1024.81L370.45 1024.85L370.20 1024.89L369.95 1024.93L369.70 1024.97L369.45 1025.01L369.20 1025.05L368.95 1025.09L368.70 1025.13L368.45 1025.17L368.20 1025.21L367.95 1025.25L367.70 1025.28L367.45 1025.32L367.20 1025.36L366.95 1025.40L366.70 1025.44L366.45 1025.48L366.20 1025.52L365.95 1025.56L365.70 1025.60L365.45 1025.64L365.20 1025.68L364.95 1025.72L364.70 1025.76L364.45 1025.80L364.20 1025.84L363.95 1025.88L363.70 1025.92L363.45 1025.96L363.20 1026.00L362.95 1026.04L362.70 1026.06L362.45 1026.05L362.20 1026.05L361.95 1026.07L361.70 1026.07L361.45 1026.06L361.20 1026.06L360.95 1026.06L360.70 1026.05L360.45 1026.05L360.20 1026.07L359.95 1026.06L359.70 1026.06L359.45 1026.06L359.20 1026.03L358.95 1025.97L358.70 1025.95L358.45 1025.83L358.20 1025.67L357.95 1025.45L357.70 1025.13L357.45 1024.61L357.20 1023.87Z" fill="#008000" shape-rendering="crispEdges"/>
<g fill="#000">
<rect x="205" y="47" width="1831" height="8"/>
<rect x="205" y="1412" width="1831" height="7"/>
<rect x="205" y="47" width="8" height="1372"/>
<rect x="2028" y="47" width="8" height="1372"/>
<rect x="213" y="1138.0" width="24" height="8.0"/>
<rect x="213" y="865.5" width="24" height="8.0"/>
<rect x="213" y="592.6" width="24" height="8.0"/>
<rect x="213" y="320.0" width="24" height="8.0"/>
<rect x="357.0" y="1388" width="8.0" height="24"/>
<rect x="737.0" y="1388" width="7.0" height="24"/>
<rect x="1116.0" y="1388" width="8.0" height="24"/>
<rect x="1496.0" y="1388" width="8.0" height="24"/>
<rect x="1875.8" y="1388" width="7.5" height="24"/>
</g>
<rect x="1687" y="80" width="329" height="336.5" fill="#000"/>
<rect x="1681" y="74" width="328" height="335" fill="#fff" stroke="#000" stroke-width="2"/>
<rect x="1750" y="105.9" width="27" height="27.5" fill="#ff00ff"/>
<text font-size="66.67" transform="translate(0,142.2) scale(1,1.03)" y="0"><tspan class="i" x="1853.2">r</tspan><tspan x="1877.1" dy="-3.8" font-size="55" textLength="42.5" lengthAdjust="spacingAndGlyphs">=</tspan><tspan x="1917.4" dy="3.8">0.2</tspan></text>
<rect x="1750" y="187.4" width="27" height="27.5" fill="#ff4040"/>
<text font-size="66.67" transform="translate(0,223.7) scale(1,1.03)" y="0"><tspan class="i" x="1853.2">r</tspan><tspan x="1877.1" dy="-3.8" font-size="55" textLength="42.5" lengthAdjust="spacingAndGlyphs">=</tspan><tspan x="1917.4" dy="3.8">0.4</tspan></text>
<rect x="1750" y="268.8" width="27" height="27.5" fill="#0070e6"/>
<text font-size="66.67" transform="translate(0,305.1) scale(1,1.03)" y="0"><tspan class="i" x="1853.2">r</tspan><tspan x="1877.1" dy="-3.8" font-size="55" textLength="42.5" lengthAdjust="spacingAndGlyphs">=</tspan><tspan x="1917.4" dy="3.8">0.6</tspan></text>
<rect x="1750" y="350.4" width="27" height="27.5" fill="#00b070"/>
<text font-size="66.67" transform="translate(0,386.7) scale(1,1.03)" y="0"><tspan class="i" x="1853.2">r</tspan><tspan x="1877.1" dy="-3.8" font-size="55" textLength="42.5" lengthAdjust="spacingAndGlyphs">=</tspan><tspan x="1917.4" dy="3.8">0.8</tspan></text>
<text font-size="83.33" text-anchor="end" transform="translate(179.5,76.0) scale(1,1.020)" x="0" y="0">10</text>
<text font-size="83.33" text-anchor="end" transform="translate(179.7,349.2) scale(1,1.020)" x="0" y="0">8</text>
<text font-size="83.33" text-anchor="end" transform="translate(180.0,623.8) scale(1,1.020)" x="0" y="0">6</text>
<text font-size="83.33" text-anchor="end" transform="translate(177.7,896.8) scale(1,1.020)" x="0" y="0">4</text>
<text font-size="83.33" text-anchor="end" transform="translate(181.2,1170.8) scale(1,1.020)" x="0" y="0">2</text>
<text font-size="83.33" text-anchor="end" transform="translate(179.5,1445.2) scale(1,1.020)" x="0" y="0">0</text>
<text font-size="83.33" text-anchor="middle" transform="translate(361.3,1514.5) scale(1,1.020)" x="0" y="0">0</text>
<text font-size="83.33" text-anchor="middle" transform="translate(740.6,1514.5) scale(1,1.020)" x="0" y="0">25</text>
<text font-size="83.33" text-anchor="middle" transform="translate(1123.5,1514.5) scale(1,1.020)" x="0" y="0">50</text>
<text font-size="83.33" text-anchor="middle" transform="translate(1502.3,1514.5) scale(1,1.020)" x="0" y="0">75</text>
<text font-size="83.33" text-anchor="middle" transform="translate(1886.8,1514.5) scale(1,1.020)" x="0" y="0">100</text>
<text class="i" font-size="100" transform="translate(1098.1,1619.2) scale(1,0.951)" x="0" y="0">n</text>
<g transform="translate(66.3,881.8) rotate(-90) scale(1.060,1)">
<text font-size="83.33" y="0"><tspan class="i" x="-3.11" dy="0.8" textLength="51.66" lengthAdjust="spacingAndGlyphs">σ</tspan><tspan font-size="55" x="38.87" dy="22.5" textLength="24.88" lengthAdjust="spacingAndGlyphs">c</tspan><tspan x="69.81 82.45 108.40 175.28 222.64 257.55" dy="-23.3"> (MPa)</tspan></text>
</g>
</svg></body></html>
